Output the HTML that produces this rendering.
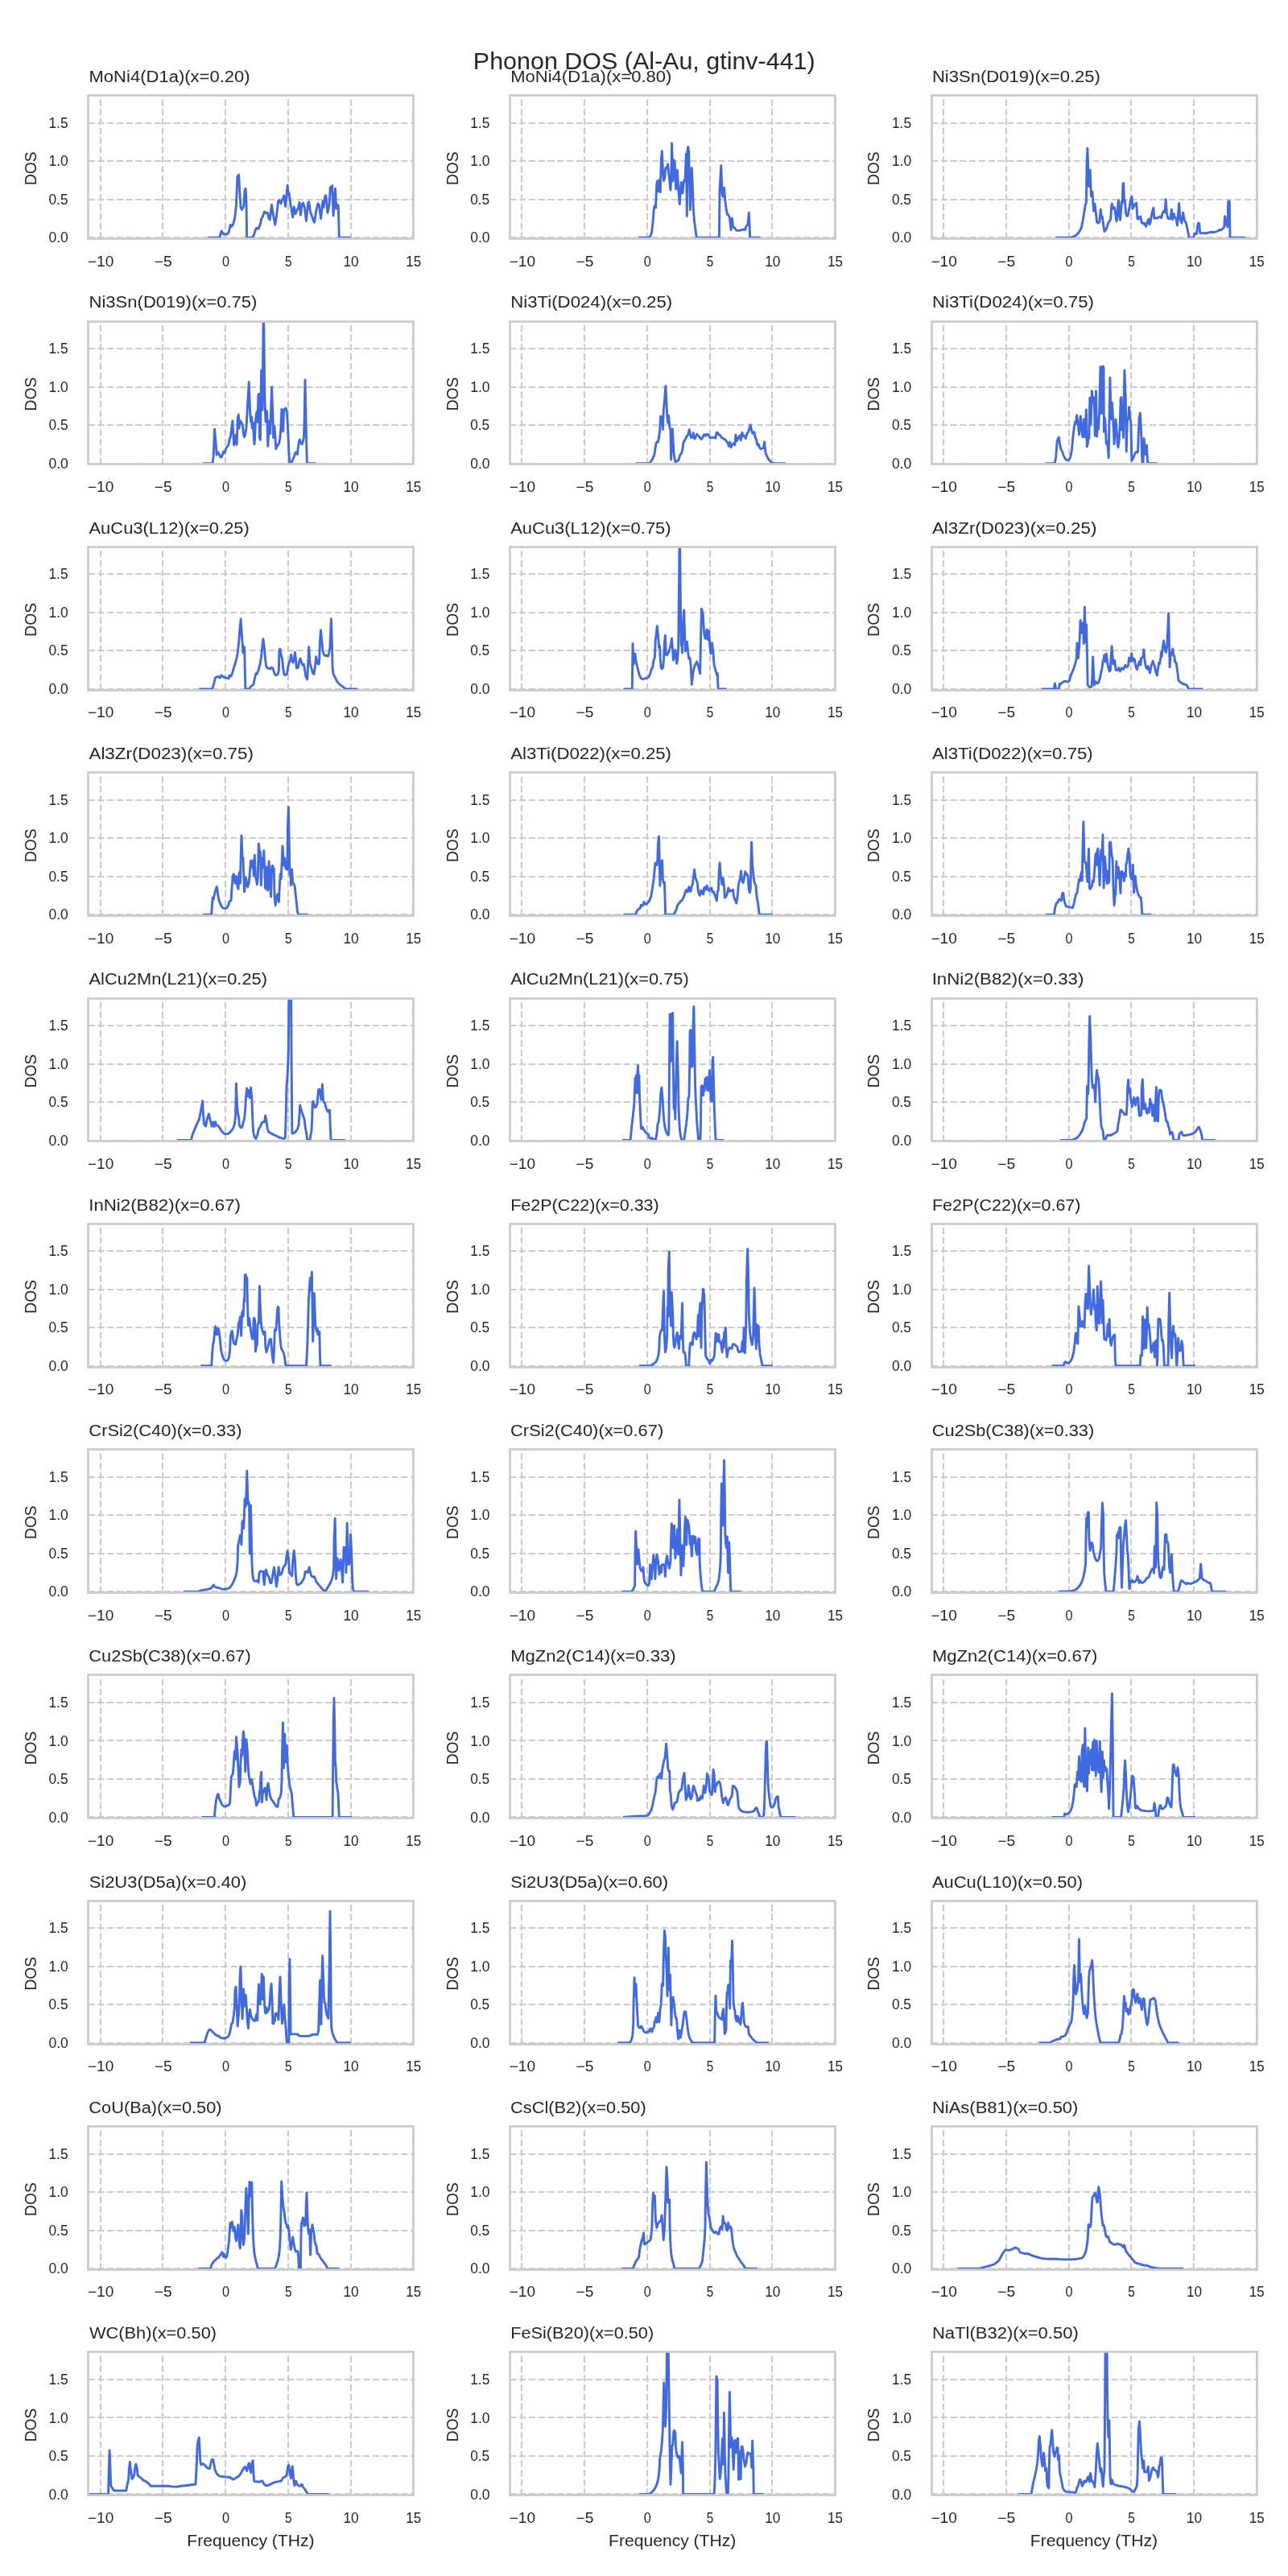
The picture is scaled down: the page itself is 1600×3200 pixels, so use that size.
<!DOCTYPE html>
<html><head><meta charset="utf-8"><title>Phonon DOS (Al-Au, gtinv-441)</title>
<style>html,body{margin:0;padding:0;background:#fff}svg{display:block;will-change:transform}text{font-family:"Liberation Sans",sans-serif}</style></head>
<body>
<svg width="1600" height="3200" viewBox="0 0 1600 3200" font-family="'Liberation Sans', sans-serif" fill="#262626">
<rect width="1600" height="3200" fill="#ffffff"/>
<defs>
<clipPath id="c0_0"><rect x="109.55" y="118.74" width="404" height="177.86"/></clipPath>
<clipPath id="c0_1"><rect x="633.29" y="118.74" width="404" height="177.86"/></clipPath>
<clipPath id="c0_2"><rect x="1157.03" y="118.74" width="404" height="177.86"/></clipPath>
<clipPath id="c1_0"><rect x="109.55" y="399.06" width="404" height="177.86"/></clipPath>
<clipPath id="c1_1"><rect x="633.29" y="399.06" width="404" height="177.86"/></clipPath>
<clipPath id="c1_2"><rect x="1157.03" y="399.06" width="404" height="177.86"/></clipPath>
<clipPath id="c2_0"><rect x="109.55" y="679.38" width="404" height="177.86"/></clipPath>
<clipPath id="c2_1"><rect x="633.29" y="679.38" width="404" height="177.86"/></clipPath>
<clipPath id="c2_2"><rect x="1157.03" y="679.38" width="404" height="177.86"/></clipPath>
<clipPath id="c3_0"><rect x="109.55" y="959.7" width="404" height="177.86"/></clipPath>
<clipPath id="c3_1"><rect x="633.29" y="959.7" width="404" height="177.86"/></clipPath>
<clipPath id="c3_2"><rect x="1157.03" y="959.7" width="404" height="177.86"/></clipPath>
<clipPath id="c4_0"><rect x="109.55" y="1240.02" width="404" height="177.86"/></clipPath>
<clipPath id="c4_1"><rect x="633.29" y="1240.02" width="404" height="177.86"/></clipPath>
<clipPath id="c4_2"><rect x="1157.03" y="1240.02" width="404" height="177.86"/></clipPath>
<clipPath id="c5_0"><rect x="109.55" y="1520.34" width="404" height="177.86"/></clipPath>
<clipPath id="c5_1"><rect x="633.29" y="1520.34" width="404" height="177.86"/></clipPath>
<clipPath id="c5_2"><rect x="1157.03" y="1520.34" width="404" height="177.86"/></clipPath>
<clipPath id="c6_0"><rect x="109.55" y="1800.66" width="404" height="177.86"/></clipPath>
<clipPath id="c6_1"><rect x="633.29" y="1800.66" width="404" height="177.86"/></clipPath>
<clipPath id="c6_2"><rect x="1157.03" y="1800.66" width="404" height="177.86"/></clipPath>
<clipPath id="c7_0"><rect x="109.55" y="2080.98" width="404" height="177.86"/></clipPath>
<clipPath id="c7_1"><rect x="633.29" y="2080.98" width="404" height="177.86"/></clipPath>
<clipPath id="c7_2"><rect x="1157.03" y="2080.98" width="404" height="177.86"/></clipPath>
<clipPath id="c8_0"><rect x="109.55" y="2361.3" width="404" height="177.86"/></clipPath>
<clipPath id="c8_1"><rect x="633.29" y="2361.3" width="404" height="177.86"/></clipPath>
<clipPath id="c8_2"><rect x="1157.03" y="2361.3" width="404" height="177.86"/></clipPath>
<clipPath id="c9_0"><rect x="109.55" y="2641.62" width="404" height="177.86"/></clipPath>
<clipPath id="c9_1"><rect x="633.29" y="2641.62" width="404" height="177.86"/></clipPath>
<clipPath id="c9_2"><rect x="1157.03" y="2641.62" width="404" height="177.86"/></clipPath>
<clipPath id="c10_0"><rect x="109.55" y="2921.94" width="404" height="177.86"/></clipPath>
<clipPath id="c10_1"><rect x="633.29" y="2921.94" width="404" height="177.86"/></clipPath>
<clipPath id="c10_2"><rect x="1157.03" y="2921.94" width="404" height="177.86"/></clipPath>
</defs>
<text x="587.88" y="86" font-size="29.45" textLength="424.77" lengthAdjust="spacingAndGlyphs">Phonon DOS (Al-Au, gtinv-441)</text>
<g>
<path d="M125 296.6V118.74M202 296.6V118.74M280 296.6V118.74M358 296.6V118.74M436 296.6V118.74M513 296.6V118.74M109.55 295H513.55M109.55 248H513.55M109.55 200H513.55M109.55 153H513.55" stroke="#cccccc" stroke-width="2.22" stroke-dasharray="8.22 3.56" fill="none"/>
<path d="M258.4 295.2 272.7 295.2 275.1 287 277.7 291 282.7 290.7 284.1 288.6 286.3 279.3 287.7 281.4 289.9 277.9 291.7 270.7 293.4 255.7 294.9 219.3 296.6 217.1 298 242.1 299.1 257.9 300.6 260.4 302.7 256.4 304.1 236.4 305.1 234.3 306 249.3 306.6 295.2 313.4 295.2 315.6 291.4 317.4 285 318.9 283.3 320.9 284.3 323.4 278.6 324.6 272.1 326.3 269.3 328.4 262.9 330.3 264.7 332.3 264.3 334.1 271.4 335.3 272.9 337.4 254.3 339.4 266.4 341.7 279.3 343.4 269.3 345.6 250 346.6 248.6 348.9 252.9 350.6 247.9 352 246.4 352.7 242.9 354.6 256.6 357.1 230.3 358.4 242.1 359.1 240 360.6 252.1 362 259.3 363.7 270 365.2 257 367 265.7 369.1 260.7 370.6 257.9 372 251.4 373.4 267.1 375.1 254.3 376.6 252.1 378.4 257.9 380.4 274.4 382.7 252.1 383.7 250.7 385.6 263.6 387.7 269.3 389.1 273.6 390.6 276.4 392.7 262.1 394.9 252.9 396.3 254.3 398.6 271.6 400.9 250 402 257.9 403.7 244.3 404.9 242.9 406.9 264.4 409.1 254.3 410.3 232.9 412.7 230.7 414.1 267.9 416.5 234.1 417.7 259.3 419.1 254.3 420.3 255.7 421.3 295.2 436 295.2" stroke="#4169e1" stroke-width="2.9" stroke-linejoin="round" stroke-linecap="butt" fill="none" clip-path="url(#c0_0)"/>
<rect x="109.5" y="118.5" width="404" height="178" fill="none" stroke="#cccccc" stroke-width="2.78"/>
<text x="110.47" y="102.07" font-size="20.61" textLength="200.21" lengthAdjust="spacingAndGlyphs">MoNi4(D1a)(x=0.20)</text>
<text x="108.98" y="330.6" font-size="17.8" textLength="32.3" lengthAdjust="spacingAndGlyphs">−10</text>
<text x="191.81" y="330.6" font-size="17.8" textLength="21.9" lengthAdjust="spacingAndGlyphs">−5</text>
<text x="275.92" y="330.6" font-size="17.8" textLength="9.05" lengthAdjust="spacingAndGlyphs">0</text>
<text x="353.89" y="330.6" font-size="17.8" textLength="8.53" lengthAdjust="spacingAndGlyphs">5</text>
<text x="426.44" y="330.6" font-size="17.8" textLength="19.2" lengthAdjust="spacingAndGlyphs">10</text>
<text x="504.23" y="330.6" font-size="17.8" textLength="18.88" lengthAdjust="spacingAndGlyphs">15</text>
<text x="60.47" y="301.35" font-size="17.8" textLength="24.34" lengthAdjust="spacingAndGlyphs">0.0</text>
<text x="60.46" y="253.85" font-size="17.8" textLength="24.04" lengthAdjust="spacingAndGlyphs">0.5</text>
<text x="60.52" y="206.35" font-size="17.8" textLength="24.28" lengthAdjust="spacingAndGlyphs">1.0</text>
<text x="60.52" y="158.85" font-size="17.8" textLength="23.98" lengthAdjust="spacingAndGlyphs">1.5</text>
<text x="24.17" y="209.27" font-size="20.61" textLength="41.68" lengthAdjust="spacingAndGlyphs" transform="rotate(-90 44.95 209.27)">DOS</text>
</g>
<g>
<path d="M648 296.6V118.74M726 296.6V118.74M804 296.6V118.74M882 296.6V118.74M959 296.6V118.74M1037 296.6V118.74M633.29 295H1037.29M633.29 248H1037.29M633.29 200H1037.29M633.29 153H1037.29" stroke="#cccccc" stroke-width="2.22" stroke-dasharray="8.22 3.56" fill="none"/>
<path d="M793.1 295.2 806 295.2 808.1 292.9 809.6 288.6 811 276.4 812.4 258.6 813.4 255.7 814.6 257.9 815.7 229.3 816.4 225 817.4 237.9 818.9 223.4 820.3 238.6 821.4 197.9 822.4 187.6 823.4 212.1 824.6 224.7 825.7 220.7 826.7 209.3 827.7 207.9 828.6 209.3 829.6 203.9 830.6 215 831.7 223.6 832.9 236.1 833.6 225 834.6 178 836 225 837.1 198.6 838.1 200.7 838.9 215 839.7 235 840.6 215 841.4 211.4 842.4 229.3 843.4 243.6 844.3 253.6 845.3 236.4 846.3 226.4 847.1 227.9 847.9 240 848.9 229.3 850 223.6 851 225 852.4 191.3 853.3 268.6 854 186.4 854.9 182.4 855.7 189.3 856.6 229.3 857.4 260.7 858.3 236.4 859.3 208.6 860.3 229.3 861.3 257.9 862.4 273.6 863.9 285 865.3 295.2 893.4 295.2 894 237.9 895.7 205.6 897.1 240.7 898.1 244.3 899.6 233.1 901 250.7 902.4 260.7 903.4 266.4 904.6 266.4 906.3 270 907.4 279.3 908.1 285.7 909.5 271.3 910.6 282.1 912.4 282.9 914.9 286.4 918.9 286.4 921.7 285.3 925.7 285.3 927.1 280.7 928.9 279 930.4 264.1 931.7 295.2 944.6 295.2" stroke="#4169e1" stroke-width="2.9" stroke-linejoin="round" stroke-linecap="butt" fill="none" clip-path="url(#c0_1)"/>
<rect x="633.5" y="118.5" width="404" height="178" fill="none" stroke="#cccccc" stroke-width="2.78"/>
<text x="634.21" y="102.07" font-size="20.61" textLength="200.21" lengthAdjust="spacingAndGlyphs">MoNi4(D1a)(x=0.80)</text>
<text x="632.72" y="330.6" font-size="17.8" textLength="32.3" lengthAdjust="spacingAndGlyphs">−10</text>
<text x="715.55" y="330.6" font-size="17.8" textLength="21.9" lengthAdjust="spacingAndGlyphs">−5</text>
<text x="799.66" y="330.6" font-size="17.8" textLength="9.05" lengthAdjust="spacingAndGlyphs">0</text>
<text x="877.63" y="330.6" font-size="17.8" textLength="8.53" lengthAdjust="spacingAndGlyphs">5</text>
<text x="950.18" y="330.6" font-size="17.8" textLength="19.2" lengthAdjust="spacingAndGlyphs">10</text>
<text x="1027.97" y="330.6" font-size="17.8" textLength="18.88" lengthAdjust="spacingAndGlyphs">15</text>
<text x="584.21" y="301.35" font-size="17.8" textLength="24.34" lengthAdjust="spacingAndGlyphs">0.0</text>
<text x="584.2" y="253.85" font-size="17.8" textLength="24.04" lengthAdjust="spacingAndGlyphs">0.5</text>
<text x="584.26" y="206.35" font-size="17.8" textLength="24.28" lengthAdjust="spacingAndGlyphs">1.0</text>
<text x="584.26" y="158.85" font-size="17.8" textLength="23.98" lengthAdjust="spacingAndGlyphs">1.5</text>
<text x="547.91" y="209.27" font-size="20.61" textLength="41.68" lengthAdjust="spacingAndGlyphs" transform="rotate(-90 568.69 209.27)">DOS</text>
</g>
<g>
<path d="M1172 296.6V118.74M1250 296.6V118.74M1328 296.6V118.74M1405 296.6V118.74M1483 296.6V118.74M1561 296.6V118.74M1157.03 295H1561.03M1157.03 248H1561.03M1157.03 200H1561.03M1157.03 153H1561.03" stroke="#cccccc" stroke-width="2.22" stroke-dasharray="8.22 3.56" fill="none"/>
<path d="M1311.4 295.2 1330.7 295.2 1335 293.3 1337.9 291.4 1340.7 287.9 1343.3 282.9 1345 275 1346.9 263.6 1348.3 254.3 1349.4 252.1 1350 206.4 1350.9 184.1 1352.6 231.6 1354.2 211.3 1355.4 243.6 1356.1 242.1 1356.9 238.1 1357.7 249.3 1358.6 262.1 1360 253.1 1361.4 265 1362.6 275.7 1364 277.1 1365.7 276.1 1367.2 260.3 1368.6 270.7 1369.4 269.3 1370.3 276.4 1371.9 287.6 1373.6 285.7 1375.4 281.4 1376.9 276.4 1378.6 274.3 1379.7 272.1 1380.7 256.4 1381.4 252.9 1382.6 259.3 1383.6 257.6 1384.7 257.9 1385.7 265.7 1386.9 274.7 1387.9 272.1 1388.9 252.1 1389.6 248.6 1390.6 265 1391.6 273.3 1392.6 260.7 1393.6 250 1394.3 252.1 1394.9 229.3 1395.7 227.6 1396.6 249.3 1397.4 249 1398.6 265 1400 268.6 1401.1 267.9 1402.9 257.9 1405 246.4 1406 244.3 1407.1 259.3 1408.6 255.7 1410.7 252.9 1411.7 252.1 1412.9 271.4 1414.3 272.1 1415.7 269.6 1416.9 269 1418.3 276.4 1420 277.9 1421.4 277.1 1422.6 279.3 1423.6 281.4 1425 276.4 1426.9 272.1 1427.9 278.6 1428.9 277.1 1430.3 268.6 1431.7 262.1 1432.9 258.3 1433.9 271.4 1435.7 270.7 1437.9 271 1440 269.3 1441.4 269 1442.6 270.7 1444.3 264.3 1446 262.1 1447.1 263.6 1448.2 247.7 1449.4 265 1451.1 271.4 1452.9 271.9 1454 271.4 1455.4 260.3 1456.7 272.9 1458.3 265.7 1459.3 270 1460.7 270.7 1462.5 280.1 1464.6 252.4 1466 272.1 1467.9 277.1 1469.6 264.1 1471.4 273.6 1473.1 276.4 1474.3 280.7 1475.7 287.9 1477.1 294.3 1477.9 295.2 1476.3 295.2 1482.7 295.2 1483.9 290 1486.5 290.5 1487.7 280.5 1488.7 277.1 1489.7 277.6 1490.7 289.5 1497.6 289.7 1501.6 289 1503.6 288.3 1508.6 288.5 1513 287 1515 285.5 1517 285.7 1519 284 1520.7 282 1521.6 268.7 1523.5 278.6 1525 282 1525.7 250.7 1526.5 249.9 1527.3 250.2 1528 295.2 1547.3 295.2" stroke="#4169e1" stroke-width="2.9" stroke-linejoin="round" stroke-linecap="butt" fill="none" clip-path="url(#c0_2)"/>
<rect x="1157.5" y="118.5" width="404" height="178" fill="none" stroke="#cccccc" stroke-width="2.78"/>
<text x="1157.95" y="102.07" font-size="20.61" textLength="208.99" lengthAdjust="spacingAndGlyphs">Ni3Sn(D019)(x=0.25)</text>
<text x="1156.46" y="330.6" font-size="17.8" textLength="32.3" lengthAdjust="spacingAndGlyphs">−10</text>
<text x="1239.29" y="330.6" font-size="17.8" textLength="21.9" lengthAdjust="spacingAndGlyphs">−5</text>
<text x="1323.4" y="330.6" font-size="17.8" textLength="9.05" lengthAdjust="spacingAndGlyphs">0</text>
<text x="1401.37" y="330.6" font-size="17.8" textLength="8.53" lengthAdjust="spacingAndGlyphs">5</text>
<text x="1473.92" y="330.6" font-size="17.8" textLength="19.2" lengthAdjust="spacingAndGlyphs">10</text>
<text x="1551.71" y="330.6" font-size="17.8" textLength="18.88" lengthAdjust="spacingAndGlyphs">15</text>
<text x="1107.95" y="301.35" font-size="17.8" textLength="24.34" lengthAdjust="spacingAndGlyphs">0.0</text>
<text x="1107.94" y="253.85" font-size="17.8" textLength="24.04" lengthAdjust="spacingAndGlyphs">0.5</text>
<text x="1108" y="206.35" font-size="17.8" textLength="24.28" lengthAdjust="spacingAndGlyphs">1.0</text>
<text x="1108" y="158.85" font-size="17.8" textLength="23.98" lengthAdjust="spacingAndGlyphs">1.5</text>
<text x="1071.65" y="209.27" font-size="20.61" textLength="41.68" lengthAdjust="spacingAndGlyphs" transform="rotate(-90 1092.43 209.27)">DOS</text>
</g>
<g>
<path d="M125 576.92V399.06M202 576.92V399.06M280 576.92V399.06M358 576.92V399.06M436 576.92V399.06M513 576.92V399.06M109.55 576H513.55M109.55 528H513.55M109.55 481H513.55M109.55 433H513.55" stroke="#cccccc" stroke-width="2.22" stroke-dasharray="8.22 3.56" fill="none"/>
<path d="M252 575.6 264.1 575.6 265.1 566.4 266.6 533.1 268.1 550.7 269.1 565 270.3 561.4 272 563.6 273.7 567.6 275.1 568.1 276.6 564.3 277.7 560.7 279.1 562.4 280.6 557.9 282 555 283.7 553.3 285.1 545.7 286.3 542.9 287.4 534.3 288.9 522.7 290.6 553 292.5 540.6 294.1 552.3 295.3 519.3 296.3 515 297.1 532.1 298 522.1 299.1 523.6 301.3 527.9 302.3 537.9 303.4 542.9 304.9 538.6 306 530.7 307 513.6 308 495 309.2 474.6 310.6 510.7 311.7 524.3 312.7 518.1 313.4 532.1 314.3 525.3 315 537.9 315.9 551.9 316.6 545 317.4 523.6 318.1 516.4 319.1 511.4 320 524.3 320.9 490.7 321.7 489.3 322.4 543.6 323.4 546.4 324.6 459.9 326.1 509.3 327.1 397.9 327.7 397.9 328.9 495 330 523.7 331.6 510.6 332.8 554.4 334.4 522.7 335.7 538.6 336.6 509.3 337.6 480.6 338.9 516.4 339.7 543.6 341 529.1 342.3 549.3 342.9 557.6 344.1 554.3 345.1 553.3 346.6 550.7 347.7 545 348.7 535 349.9 508.4 351 519.3 351.7 535.7 352.6 509.3 353.4 507.9 354.3 509.3 355.1 507.1 356 509.3 357 520.7 358 540.7 359.1 566.4 359.9 575.6 361.7 575.6 364.1 570.4 366.3 564.3 367.4 561.9 368.4 562.4 369.4 564.3 370.3 556.4 371.3 549.3 372.4 546.1 373.7 550.7 375.1 551.9 376.3 548.6 377.4 543.6 378.1 523.6 379 472 380.1 523.6 380.9 559.3 381.4 575.6 392.7 575.6" stroke="#4169e1" stroke-width="2.9" stroke-linejoin="round" stroke-linecap="butt" fill="none" clip-path="url(#c1_0)"/>
<rect x="109.5" y="399.5" width="404" height="177" fill="none" stroke="#cccccc" stroke-width="2.78"/>
<text x="110.47" y="382.39" font-size="20.61" textLength="208.99" lengthAdjust="spacingAndGlyphs">Ni3Sn(D019)(x=0.75)</text>
<text x="108.98" y="610.92" font-size="17.8" textLength="32.3" lengthAdjust="spacingAndGlyphs">−10</text>
<text x="191.81" y="610.92" font-size="17.8" textLength="21.9" lengthAdjust="spacingAndGlyphs">−5</text>
<text x="275.92" y="610.92" font-size="17.8" textLength="9.05" lengthAdjust="spacingAndGlyphs">0</text>
<text x="353.89" y="610.92" font-size="17.8" textLength="8.53" lengthAdjust="spacingAndGlyphs">5</text>
<text x="426.44" y="610.92" font-size="17.8" textLength="19.2" lengthAdjust="spacingAndGlyphs">10</text>
<text x="504.23" y="610.92" font-size="17.8" textLength="18.88" lengthAdjust="spacingAndGlyphs">15</text>
<text x="60.47" y="581.67" font-size="17.8" textLength="24.34" lengthAdjust="spacingAndGlyphs">0.0</text>
<text x="60.46" y="534.17" font-size="17.8" textLength="24.04" lengthAdjust="spacingAndGlyphs">0.5</text>
<text x="60.52" y="486.67" font-size="17.8" textLength="24.28" lengthAdjust="spacingAndGlyphs">1.0</text>
<text x="60.52" y="439.17" font-size="17.8" textLength="23.98" lengthAdjust="spacingAndGlyphs">1.5</text>
<text x="24.17" y="489.59" font-size="20.61" textLength="41.68" lengthAdjust="spacingAndGlyphs" transform="rotate(-90 44.95 489.59)">DOS</text>
</g>
<g>
<path d="M648 576.92V399.06M726 576.92V399.06M804 576.92V399.06M882 576.92V399.06M959 576.92V399.06M1037 576.92V399.06M633.29 576H1037.29M633.29 528H1037.29M633.29 481H1037.29M633.29 433H1037.29" stroke="#cccccc" stroke-width="2.22" stroke-dasharray="8.22 3.56" fill="none"/>
<path d="M789.6 575.6 806.7 575.6 808.9 572.9 811 569.3 812.9 564.3 813.9 557.9 814.9 551.4 816 549 817.4 549.3 818.6 543.6 819.6 535 820.7 517 822 527.1 822.7 517.6 823.4 533.6 824.3 509.3 825.3 499.3 826.9 479.4 828.1 503.6 828.9 519.3 829.7 525.3 830.7 516.3 832 532.1 832.9 532.9 833.6 571 834.3 552.1 835.4 532.7 836.4 552.1 837.4 566.4 838.9 573.6 840.6 573.3 843.1 571.4 844.6 565.7 846.3 563.6 847.7 559.3 849.1 549.3 851 546.4 853.1 542.1 854.9 540 856.4 533.7 857.7 540.7 858.6 543.6 860.3 542.9 861.3 537.6 862.1 543.6 863.1 545.3 864.6 541.4 865.7 539.3 867.4 541.4 869.1 542.9 871 545.7 872.9 543.6 874.3 540 875.7 539.6 876.7 541.4 877.7 539.6 879.1 539.3 880.6 541.4 882 543.6 883.9 543.9 885.7 543.3 887.4 543.6 888.9 544.3 889.9 537.9 891.4 537.1 892.9 540 894.6 540.7 896.3 543.6 898.6 545 901 546.1 903.1 549 904.3 550.7 905.3 554.3 906.7 549.1 908.1 555.7 909.6 552.1 911.4 550.7 912.9 552.9 913.9 540.3 915.3 547.9 916.7 545 918.1 542.1 919.6 540.7 920.3 547.1 921.9 537.4 923.4 542.1 924.6 541.4 926.3 544.7 927.7 539.3 929.1 537.1 930.6 533.6 932.2 527.7 933.9 535.7 934.9 538.6 936 537.1 937 536.7 938.1 542.9 939.6 546.4 941 552.9 942.4 552.1 943.4 555.7 944.9 557.6 946.7 557.1 948.6 556.4 949.6 548.9 951 562.9 952.4 565.7 954.3 570 956 571.9 958.1 574.3 960 575.3 963.1 575.6 976 575.6" stroke="#4169e1" stroke-width="2.9" stroke-linejoin="round" stroke-linecap="butt" fill="none" clip-path="url(#c1_1)"/>
<rect x="633.5" y="399.5" width="404" height="177" fill="none" stroke="#cccccc" stroke-width="2.78"/>
<text x="634.2" y="382.39" font-size="20.61" textLength="201.06" lengthAdjust="spacingAndGlyphs">Ni3Ti(D024)(x=0.25)</text>
<text x="632.72" y="610.92" font-size="17.8" textLength="32.3" lengthAdjust="spacingAndGlyphs">−10</text>
<text x="715.55" y="610.92" font-size="17.8" textLength="21.9" lengthAdjust="spacingAndGlyphs">−5</text>
<text x="799.66" y="610.92" font-size="17.8" textLength="9.05" lengthAdjust="spacingAndGlyphs">0</text>
<text x="877.63" y="610.92" font-size="17.8" textLength="8.53" lengthAdjust="spacingAndGlyphs">5</text>
<text x="950.18" y="610.92" font-size="17.8" textLength="19.2" lengthAdjust="spacingAndGlyphs">10</text>
<text x="1027.97" y="610.92" font-size="17.8" textLength="18.88" lengthAdjust="spacingAndGlyphs">15</text>
<text x="584.21" y="581.67" font-size="17.8" textLength="24.34" lengthAdjust="spacingAndGlyphs">0.0</text>
<text x="584.2" y="534.17" font-size="17.8" textLength="24.04" lengthAdjust="spacingAndGlyphs">0.5</text>
<text x="584.26" y="486.67" font-size="17.8" textLength="24.28" lengthAdjust="spacingAndGlyphs">1.0</text>
<text x="584.26" y="439.17" font-size="17.8" textLength="23.98" lengthAdjust="spacingAndGlyphs">1.5</text>
<text x="547.91" y="489.59" font-size="20.61" textLength="41.68" lengthAdjust="spacingAndGlyphs" transform="rotate(-90 568.69 489.59)">DOS</text>
</g>
<g>
<path d="M1172 576.92V399.06M1250 576.92V399.06M1328 576.92V399.06M1405 576.92V399.06M1483 576.92V399.06M1561 576.92V399.06M1157.03 576H1561.03M1157.03 528H1561.03M1157.03 481H1561.03M1157.03 433H1561.03" stroke="#cccccc" stroke-width="2.22" stroke-dasharray="8.22 3.56" fill="none"/>
<path d="M1298.3 575.6 1310.3 575.6 1311.7 567.9 1313.1 548.6 1314.3 545 1315.4 543.3 1316.4 551.4 1317.9 557.9 1319.7 561.4 1321.4 566.4 1323.6 570.4 1325.7 571.9 1327.9 571 1329.7 567.9 1331.4 559.3 1333.1 540.7 1334.6 529.3 1335.7 523.6 1336.6 526.4 1337.6 516 1338.9 523.6 1339.7 532.1 1340.7 540 1342.3 517 1343.6 530.7 1344.9 543 1346.4 520.6 1347.9 543 1349.4 508.9 1350.3 554.7 1351.1 552.1 1352 545 1352.9 544.3 1353.8 494.1 1355.1 527.9 1356.4 485.6 1357.7 500.7 1358.6 493.6 1359.4 503.6 1360.3 541.4 1361.5 485.6 1362.6 542.1 1363.4 532.1 1364.6 532.9 1365.7 509.3 1367 455.6 1368.3 513.6 1369 455.7 1370.3 455 1371 456.4 1371.4 536.4 1372.5 518.9 1373.6 536.4 1374.3 551.4 1375.7 549.3 1377.2 568.7 1378.9 469.1 1380.3 520.7 1381.6 500.3 1382.9 523.6 1384.1 551.6 1386.1 520.9 1387.4 537.9 1388.3 552.1 1389.1 555.7 1390.3 545 1391.4 523.6 1392.1 495 1393 493.6 1393.7 534.3 1394.6 509.3 1395.4 543.6 1396.9 459.9 1398.3 495 1399.2 560.9 1400.3 523.6 1401.1 520.7 1401.7 519.3 1402.6 505.6 1403.7 517.9 1404.9 526.4 1405.9 572.3 1408.3 567.9 1410 562.9 1411.7 561 1412.9 562.1 1413.6 560.7 1414.3 537.9 1415.1 519.3 1416.4 513.1 1417.7 537.9 1418.6 566.4 1419.1 575.6 1420 575.6 1421.1 544.6 1422.7 564.4 1424.4 553.1 1425.7 575.6 1437.9 575.6" stroke="#4169e1" stroke-width="2.9" stroke-linejoin="round" stroke-linecap="butt" fill="none" clip-path="url(#c1_2)"/>
<rect x="1157.5" y="399.5" width="404" height="177" fill="none" stroke="#cccccc" stroke-width="2.78"/>
<text x="1157.94" y="382.39" font-size="20.61" textLength="201.06" lengthAdjust="spacingAndGlyphs">Ni3Ti(D024)(x=0.75)</text>
<text x="1156.46" y="610.92" font-size="17.8" textLength="32.3" lengthAdjust="spacingAndGlyphs">−10</text>
<text x="1239.29" y="610.92" font-size="17.8" textLength="21.9" lengthAdjust="spacingAndGlyphs">−5</text>
<text x="1323.4" y="610.92" font-size="17.8" textLength="9.05" lengthAdjust="spacingAndGlyphs">0</text>
<text x="1401.37" y="610.92" font-size="17.8" textLength="8.53" lengthAdjust="spacingAndGlyphs">5</text>
<text x="1473.92" y="610.92" font-size="17.8" textLength="19.2" lengthAdjust="spacingAndGlyphs">10</text>
<text x="1551.71" y="610.92" font-size="17.8" textLength="18.88" lengthAdjust="spacingAndGlyphs">15</text>
<text x="1107.95" y="581.67" font-size="17.8" textLength="24.34" lengthAdjust="spacingAndGlyphs">0.0</text>
<text x="1107.94" y="534.17" font-size="17.8" textLength="24.04" lengthAdjust="spacingAndGlyphs">0.5</text>
<text x="1108" y="486.67" font-size="17.8" textLength="24.28" lengthAdjust="spacingAndGlyphs">1.0</text>
<text x="1108" y="439.17" font-size="17.8" textLength="23.98" lengthAdjust="spacingAndGlyphs">1.5</text>
<text x="1071.65" y="489.59" font-size="20.61" textLength="41.68" lengthAdjust="spacingAndGlyphs" transform="rotate(-90 1092.43 489.59)">DOS</text>
</g>
<g>
<path d="M125 857.24V679.38M202 857.24V679.38M280 857.24V679.38M358 857.24V679.38M436 857.24V679.38M513 857.24V679.38M109.55 856H513.55M109.55 808H513.55M109.55 761H513.55M109.55 713H513.55" stroke="#cccccc" stroke-width="2.22" stroke-dasharray="8.22 3.56" fill="none"/>
<path d="M247.4 855.9 263.7 855.9 265.6 849.6 267.4 842 269.1 841 270.9 840.3 273.1 842 275.1 838.9 277 840.6 279.1 841.7 282 842.4 284.1 842.9 285.1 838.9 286.3 840.3 287.7 838.9 289.4 833.1 291.7 825.3 293.7 818.9 295.1 811.7 296.6 798.9 297.7 784.6 299.1 769 300.3 787.4 301.3 800.3 302 811 302.9 803.1 303.7 804.6 304.3 833.1 304.9 855.9 309.1 855.9 312 852.4 314.9 850.3 316.3 843.1 318 836.7 319.1 837.4 321.3 831.7 323.1 824.6 324.6 815.3 325.6 804.6 326.9 793.7 328.4 804.6 329.4 817.4 330.6 827.4 332 829.6 334.1 830.3 336 831 337.4 829.1 338.9 830.3 340.3 834.6 341.7 838.1 343.4 838.9 345.1 837.4 346.3 833.1 347 807.4 348 806 349.1 813.1 350.6 818.9 351.7 830.3 353.1 838.1 354.9 838.6 356.6 837.4 358 827.4 359.4 822.4 360.6 820.3 361.6 813.3 363.1 821.7 364.1 823.1 365.1 820.3 366.4 810.1 367.4 818.9 368.4 830 370.6 828.9 372 820.3 373.1 818.1 374.6 823.1 376 826 377.4 825.3 378.4 831 379.9 840.3 381.7 843.9 382.3 833.1 383.7 803.7 385.1 824.6 387 830.3 388.4 836 389.9 837.4 391.3 828.9 392.7 815.6 394.1 823.1 395.6 825.3 396.6 823.1 397.4 798.9 398.5 782.7 399.9 797.4 400.9 807.4 402.3 812.9 404.1 814.6 406 814.3 407.4 815.3 408.9 810.3 409.9 804.6 411.4 768.7 412.6 804.6 413.1 830.3 414.1 837.4 416.3 841.7 418.4 846 421.3 849.6 424.9 852.4 427.7 854.6 429.9 855.9 444 855.9" stroke="#4169e1" stroke-width="2.9" stroke-linejoin="round" stroke-linecap="butt" fill="none" clip-path="url(#c2_0)"/>
<rect x="109.5" y="679.5" width="404" height="178" fill="none" stroke="#cccccc" stroke-width="2.78"/>
<text x="110.48" y="662.71" font-size="20.61" textLength="199.41" lengthAdjust="spacingAndGlyphs">AuCu3(L12)(x=0.25)</text>
<text x="108.98" y="891.24" font-size="17.8" textLength="32.3" lengthAdjust="spacingAndGlyphs">−10</text>
<text x="191.81" y="891.24" font-size="17.8" textLength="21.9" lengthAdjust="spacingAndGlyphs">−5</text>
<text x="275.92" y="891.24" font-size="17.8" textLength="9.05" lengthAdjust="spacingAndGlyphs">0</text>
<text x="353.89" y="891.24" font-size="17.8" textLength="8.53" lengthAdjust="spacingAndGlyphs">5</text>
<text x="426.44" y="891.24" font-size="17.8" textLength="19.2" lengthAdjust="spacingAndGlyphs">10</text>
<text x="504.23" y="891.24" font-size="17.8" textLength="18.88" lengthAdjust="spacingAndGlyphs">15</text>
<text x="60.47" y="861.99" font-size="17.8" textLength="24.34" lengthAdjust="spacingAndGlyphs">0.0</text>
<text x="60.46" y="814.49" font-size="17.8" textLength="24.04" lengthAdjust="spacingAndGlyphs">0.5</text>
<text x="60.52" y="766.99" font-size="17.8" textLength="24.28" lengthAdjust="spacingAndGlyphs">1.0</text>
<text x="60.52" y="719.49" font-size="17.8" textLength="23.98" lengthAdjust="spacingAndGlyphs">1.5</text>
<text x="24.17" y="769.91" font-size="20.61" textLength="41.68" lengthAdjust="spacingAndGlyphs" transform="rotate(-90 44.95 769.91)">DOS</text>
</g>
<g>
<path d="M648 857.24V679.38M726 857.24V679.38M804 857.24V679.38M882 857.24V679.38M959 857.24V679.38M1037 857.24V679.38M633.29 856H1037.29M633.29 808H1037.29M633.29 761H1037.29M633.29 713H1037.29" stroke="#cccccc" stroke-width="2.22" stroke-dasharray="8.22 3.56" fill="none"/>
<path d="M774.3 855.9 785.3 855.9 786 799.4 787.1 825.3 788.9 812.3 790.7 824.6 792.4 831 793.9 837.4 795.7 841.7 797.7 843.6 800.3 843.1 803.1 842.4 806 841 807.7 836.7 809.6 830.3 810.7 829.6 811.7 821.7 812.7 818.1 813.4 816.7 814.3 794.6 816.4 777.6 818 794.6 818.6 804.6 819.6 802.4 820.3 818.9 821.1 828.9 822.4 831 823.6 828.9 824.6 818.9 825.3 800.3 826.4 789.4 827.4 813.1 828.6 813.9 830.6 810.3 832.4 804.6 833.4 800.3 834.5 793 835.6 807.4 836.4 820 837.4 813.1 838.9 807.3 840 818.9 840.7 824.3 841.7 818.9 842.7 804.6 844 678.9 844.7 678.9 845.7 776 846.3 801.7 846.9 798.9 847.4 811 848.1 790.3 848.9 767.4 849.7 758 850.7 790.3 851.4 808.9 852.4 804.6 853.5 797.3 854.6 808.9 855.7 818.1 857.1 817.4 858.1 826 859.3 850.4 860.6 838.9 861.7 831.7 863.4 826 865.6 821.9 867.4 827.4 868.9 833.1 869.7 836.7 870.3 804.6 871.5 756.1 873.1 761.7 874 776 874.9 788.9 876.2 793.3 878.1 781.9 879.1 794.6 880.5 783.7 881.7 800.3 882.9 811.9 884.6 798.7 886 811.7 887.1 826 888.6 831.7 890 836 890.9 840.3 891.4 836.7 892 854.6 892.4 855.9 902.9 855.9" stroke="#4169e1" stroke-width="2.9" stroke-linejoin="round" stroke-linecap="butt" fill="none" clip-path="url(#c2_1)"/>
<rect x="633.5" y="679.5" width="404" height="178" fill="none" stroke="#cccccc" stroke-width="2.78"/>
<text x="634.22" y="662.71" font-size="20.61" textLength="199.41" lengthAdjust="spacingAndGlyphs">AuCu3(L12)(x=0.75)</text>
<text x="632.72" y="891.24" font-size="17.8" textLength="32.3" lengthAdjust="spacingAndGlyphs">−10</text>
<text x="715.55" y="891.24" font-size="17.8" textLength="21.9" lengthAdjust="spacingAndGlyphs">−5</text>
<text x="799.66" y="891.24" font-size="17.8" textLength="9.05" lengthAdjust="spacingAndGlyphs">0</text>
<text x="877.63" y="891.24" font-size="17.8" textLength="8.53" lengthAdjust="spacingAndGlyphs">5</text>
<text x="950.18" y="891.24" font-size="17.8" textLength="19.2" lengthAdjust="spacingAndGlyphs">10</text>
<text x="1027.97" y="891.24" font-size="17.8" textLength="18.88" lengthAdjust="spacingAndGlyphs">15</text>
<text x="584.21" y="861.99" font-size="17.8" textLength="24.34" lengthAdjust="spacingAndGlyphs">0.0</text>
<text x="584.2" y="814.49" font-size="17.8" textLength="24.04" lengthAdjust="spacingAndGlyphs">0.5</text>
<text x="584.26" y="766.99" font-size="17.8" textLength="24.28" lengthAdjust="spacingAndGlyphs">1.0</text>
<text x="584.26" y="719.49" font-size="17.8" textLength="23.98" lengthAdjust="spacingAndGlyphs">1.5</text>
<text x="547.91" y="769.91" font-size="20.61" textLength="41.68" lengthAdjust="spacingAndGlyphs" transform="rotate(-90 568.69 769.91)">DOS</text>
</g>
<g>
<path d="M1172 857.24V679.38M1250 857.24V679.38M1328 857.24V679.38M1405 857.24V679.38M1483 857.24V679.38M1561 857.24V679.38M1157.03 856H1561.03M1157.03 808H1561.03M1157.03 761H1561.03M1157.03 713H1561.03" stroke="#cccccc" stroke-width="2.22" stroke-dasharray="8.22 3.56" fill="none"/>
<path d="M1293.6 855.9 1309.3 855.9 1310.4 849 1311.7 855.9 1315.4 855.9 1316.4 849.1 1317.4 850 1319.3 848.1 1321.4 846.7 1324 846.3 1326.4 847.1 1328.3 846 1330 839.6 1332.1 834.6 1334.3 828.9 1336.4 821.7 1337.4 816.7 1338 798.9 1339.4 817.6 1340.9 800.3 1342.1 770.4 1343.9 786.1 1345.4 773.7 1346.3 799.6 1347.4 754.1 1348.6 797.4 1349.6 775.9 1350.6 818.9 1351.1 850.3 1352.6 852.9 1354.3 853.9 1356 853.1 1356.9 840.3 1357.6 815.9 1359.3 851.1 1361.4 846.7 1362.9 848.9 1364.6 848.1 1366.4 842.4 1367.9 834.6 1369 830.3 1370 821.7 1371.1 818.9 1371.9 813.4 1372.9 822.1 1374.4 811.9 1375.7 823.1 1377.1 830.3 1378.3 833.9 1379.3 833.1 1380 818.9 1381.1 802.7 1382.9 825 1384.8 820.4 1386.1 832.4 1387.9 832.9 1389.7 829.6 1391.4 833.9 1393.6 830 1395.4 831.4 1397.9 826.3 1399.3 828.9 1401.4 827.4 1402.6 817.3 1403.9 821.7 1404.7 817.4 1405.8 811.6 1406.9 821.4 1408.3 818.1 1409.3 818.9 1410.3 824.6 1411.4 829.6 1412.6 831.7 1414 826 1415.5 821.6 1416.9 826 1417.7 817.4 1418.9 816.7 1420 816 1420.9 807 1421.9 818.9 1422.9 826 1424 829.6 1425 830.6 1426.1 827.4 1427.1 831.7 1428.6 835.9 1430 827.4 1432.1 821.3 1434.3 827.4 1435.7 834.6 1437.3 839 1438.6 830.3 1439.7 823.1 1440.7 824.6 1441.9 816.7 1442.4 810.3 1443.3 815.3 1444.3 804.6 1445.5 795.9 1446.9 804.6 1447.9 808.9 1448.6 810.3 1449.6 803.1 1450.4 790.3 1451.6 761.9 1452.6 804.6 1453.1 828.9 1454 816.7 1454.7 813.1 1455.7 810.3 1456.8 806.1 1457.9 813.9 1458.9 815.3 1459.7 822.4 1461.1 823.1 1462.6 833.1 1464 845.3 1465.7 847.1 1468.6 848.9 1471.4 850.3 1473.6 850.6 1475 852.4 1476.4 855.9 1494.3 855.9" stroke="#4169e1" stroke-width="2.9" stroke-linejoin="round" stroke-linecap="butt" fill="none" clip-path="url(#c2_2)"/>
<rect x="1157.5" y="679.5" width="404" height="178" fill="none" stroke="#cccccc" stroke-width="2.78"/>
<text x="1157.96" y="662.71" font-size="20.61" textLength="204.42" lengthAdjust="spacingAndGlyphs">Al3Zr(D023)(x=0.25)</text>
<text x="1156.46" y="891.24" font-size="17.8" textLength="32.3" lengthAdjust="spacingAndGlyphs">−10</text>
<text x="1239.29" y="891.24" font-size="17.8" textLength="21.9" lengthAdjust="spacingAndGlyphs">−5</text>
<text x="1323.4" y="891.24" font-size="17.8" textLength="9.05" lengthAdjust="spacingAndGlyphs">0</text>
<text x="1401.37" y="891.24" font-size="17.8" textLength="8.53" lengthAdjust="spacingAndGlyphs">5</text>
<text x="1473.92" y="891.24" font-size="17.8" textLength="19.2" lengthAdjust="spacingAndGlyphs">10</text>
<text x="1551.71" y="891.24" font-size="17.8" textLength="18.88" lengthAdjust="spacingAndGlyphs">15</text>
<text x="1107.95" y="861.99" font-size="17.8" textLength="24.34" lengthAdjust="spacingAndGlyphs">0.0</text>
<text x="1107.94" y="814.49" font-size="17.8" textLength="24.04" lengthAdjust="spacingAndGlyphs">0.5</text>
<text x="1108" y="766.99" font-size="17.8" textLength="24.28" lengthAdjust="spacingAndGlyphs">1.0</text>
<text x="1108" y="719.49" font-size="17.8" textLength="23.98" lengthAdjust="spacingAndGlyphs">1.5</text>
<text x="1071.65" y="769.91" font-size="20.61" textLength="41.68" lengthAdjust="spacingAndGlyphs" transform="rotate(-90 1092.43 769.91)">DOS</text>
</g>
<g>
<path d="M125 1137.56V959.7M202 1137.56V959.7M280 1137.56V959.7M358 1137.56V959.7M436 1137.56V959.7M513 1137.56V959.7M109.55 1136H513.55M109.55 1089H513.55M109.55 1041H513.55M109.55 994H513.55" stroke="#cccccc" stroke-width="2.22" stroke-dasharray="8.22 3.56" fill="none"/>
<path d="M252 1136.2 262.7 1136.2 263.4 1124.6 264.1 1115.3 265.1 1117.4 266.3 1111.7 267.7 1106 269.4 1101.6 270.6 1110.3 271.7 1117.4 273.4 1121.7 275.1 1126 277.4 1128.1 279.9 1128.6 282 1127.4 283.7 1124.6 285.1 1119.6 287 1118.9 287.7 1107.4 288.6 1096.7 289.1 1088.1 290.3 1085.7 291.3 1093.1 292.3 1097.4 293.7 1088.4 295.1 1101.7 296 1104.3 297.2 1083.7 298.4 1097.4 299.1 1067.4 300 1038 301.1 1066 302 1065.7 302.6 1084.6 303.6 1107.9 305.4 1089.9 307.5 1101.9 309.1 1097.4 310.3 1084.6 311.5 1069.4 312.9 1077.4 314.1 1069 315.3 1087.4 316.3 1062.3 317.4 1088.9 318.4 1093.1 319.4 1098.9 320.3 1090.3 321.3 1048 322.6 1058.9 323.4 1058.1 324.3 1099.6 325.6 1065.9 326.7 1077.4 327.8 1056.7 328.9 1084.6 329.4 1103.1 330.3 1076.7 331 1104.6 331.7 1077.1 332.7 1106 334.1 1069.9 335.4 1098.9 336.6 1114 337.7 1076 338.6 1075.3 339.4 1078.1 340.3 1078.9 341 1113.1 342.1 1124.7 343.4 1116 344.7 1110.9 346.4 1120.4 347.4 1098.9 348.3 1085.6 349.1 1091.7 349.9 1077.4 351 1050.9 352.6 1075 353.8 1065.9 354.9 1078.9 356 1079.6 357 1080.3 357.4 1027.4 358.4 1002.7 359.4 1056 360 1086.7 360.9 1079.6 361.4 1099.6 362.6 1079.9 363.7 1097.4 365.1 1098.1 366.3 1101.7 367.4 1113.1 368.6 1123.1 369.4 1132.4 370.9 1136.2 382.7 1136.2" stroke="#4169e1" stroke-width="2.9" stroke-linejoin="round" stroke-linecap="butt" fill="none" clip-path="url(#c3_0)"/>
<rect x="109.5" y="959.5" width="404" height="178" fill="none" stroke="#cccccc" stroke-width="2.78"/>
<text x="110.48" y="943.03" font-size="20.61" textLength="204.42" lengthAdjust="spacingAndGlyphs">Al3Zr(D023)(x=0.75)</text>
<text x="108.98" y="1171.56" font-size="17.8" textLength="32.3" lengthAdjust="spacingAndGlyphs">−10</text>
<text x="191.81" y="1171.56" font-size="17.8" textLength="21.9" lengthAdjust="spacingAndGlyphs">−5</text>
<text x="275.92" y="1171.56" font-size="17.8" textLength="9.05" lengthAdjust="spacingAndGlyphs">0</text>
<text x="353.89" y="1171.56" font-size="17.8" textLength="8.53" lengthAdjust="spacingAndGlyphs">5</text>
<text x="426.44" y="1171.56" font-size="17.8" textLength="19.2" lengthAdjust="spacingAndGlyphs">10</text>
<text x="504.23" y="1171.56" font-size="17.8" textLength="18.88" lengthAdjust="spacingAndGlyphs">15</text>
<text x="60.47" y="1142.31" font-size="17.8" textLength="24.34" lengthAdjust="spacingAndGlyphs">0.0</text>
<text x="60.46" y="1094.81" font-size="17.8" textLength="24.04" lengthAdjust="spacingAndGlyphs">0.5</text>
<text x="60.52" y="1047.31" font-size="17.8" textLength="24.28" lengthAdjust="spacingAndGlyphs">1.0</text>
<text x="60.52" y="999.81" font-size="17.8" textLength="23.98" lengthAdjust="spacingAndGlyphs">1.5</text>
<text x="24.17" y="1050.23" font-size="20.61" textLength="41.68" lengthAdjust="spacingAndGlyphs" transform="rotate(-90 44.95 1050.23)">DOS</text>
</g>
<g>
<path d="M648 1137.56V959.7M726 1137.56V959.7M804 1137.56V959.7M882 1137.56V959.7M959 1137.56V959.7M1037 1137.56V959.7M633.29 1136H1037.29M633.29 1089H1037.29M633.29 1041H1037.29M633.29 994H1037.29" stroke="#cccccc" stroke-width="2.22" stroke-dasharray="8.22 3.56" fill="none"/>
<path d="M774.3 1136.2 789.6 1136.2 791 1131.7 792.9 1129.6 795.3 1128.1 796.3 1124.3 797.7 1125.3 799.1 1123.9 800 1120.3 801 1123.1 802.4 1123.4 804.6 1121.7 806.7 1118.9 808.6 1113.9 810.3 1104.6 812 1093.1 813.1 1081.7 813.9 1072.4 814.9 1072 816 1074.6 816.7 1070.3 817.4 1048.9 818.6 1039 819.9 1100.4 821 1070.3 822 1069.1 822.7 1068.9 823.4 1093.1 824.6 1096.7 825.4 1096 826 1113.1 826.6 1136.2 836.7 1136.2 838.6 1133.1 840.3 1129.6 841.4 1125.3 842.4 1123.1 843.9 1122 845.3 1119.6 846.7 1118.9 848.6 1116 850.3 1111.7 851.7 1106.7 852.4 1105.7 853.4 1105.3 854.3 1108.1 855.8 1101.6 857.9 1107.6 859.1 1101.7 860.3 1098.9 861.3 1090.3 862.6 1080.1 863.9 1090.3 865.3 1093.9 866.3 1096.7 867.4 1107.4 869.3 1112.6 871 1106 872 1108.1 872.9 1110.6 873.9 1111 874.6 1103.1 875.7 1102.4 876.7 1105.3 878.1 1100.1 879.6 1104.6 881 1106.7 882.4 1103.9 883.9 1103.1 884.9 1108.1 886.3 1107.4 887.7 1111 889.1 1114.6 890.3 1118.9 891.4 1107.4 892.4 1106 893.1 1084.6 894.1 1071.6 895.3 1087.4 896 1091.7 896.9 1098.9 898.3 1091.3 899.6 1101.7 900.3 1115.3 901.7 1113.9 903.1 1111 904.8 1103 906.3 1107.4 907.7 1106 909.1 1106.7 910.6 1105.3 911.4 1113.1 912.9 1117.4 914.8 1121.9 916.3 1113.1 917.4 1098.9 918.9 1093.1 919.6 1091 920.6 1081.9 921.7 1093.1 923.1 1096.7 924.3 1091.7 925.8 1082.7 927.1 1086.7 928.1 1086 929.1 1088.9 930.3 1106 931.4 1108.9 932.3 1104.6 932.9 1070.3 933.6 1046.1 934.6 1073.1 935.7 1084.6 936.7 1093.9 938.1 1098.9 938.9 1099.6 940 1113.1 941.7 1123.1 943.1 1134.6 943.9 1136.2 960 1136.2" stroke="#4169e1" stroke-width="2.9" stroke-linejoin="round" stroke-linecap="butt" fill="none" clip-path="url(#c3_1)"/>
<rect x="633.5" y="959.5" width="404" height="178" fill="none" stroke="#cccccc" stroke-width="2.78"/>
<text x="634.22" y="943.03" font-size="20.61" textLength="199.8" lengthAdjust="spacingAndGlyphs">Al3Ti(D022)(x=0.25)</text>
<text x="632.72" y="1171.56" font-size="17.8" textLength="32.3" lengthAdjust="spacingAndGlyphs">−10</text>
<text x="715.55" y="1171.56" font-size="17.8" textLength="21.9" lengthAdjust="spacingAndGlyphs">−5</text>
<text x="799.66" y="1171.56" font-size="17.8" textLength="9.05" lengthAdjust="spacingAndGlyphs">0</text>
<text x="877.63" y="1171.56" font-size="17.8" textLength="8.53" lengthAdjust="spacingAndGlyphs">5</text>
<text x="950.18" y="1171.56" font-size="17.8" textLength="19.2" lengthAdjust="spacingAndGlyphs">10</text>
<text x="1027.97" y="1171.56" font-size="17.8" textLength="18.88" lengthAdjust="spacingAndGlyphs">15</text>
<text x="584.21" y="1142.31" font-size="17.8" textLength="24.34" lengthAdjust="spacingAndGlyphs">0.0</text>
<text x="584.2" y="1094.81" font-size="17.8" textLength="24.04" lengthAdjust="spacingAndGlyphs">0.5</text>
<text x="584.26" y="1047.31" font-size="17.8" textLength="24.28" lengthAdjust="spacingAndGlyphs">1.0</text>
<text x="584.26" y="999.81" font-size="17.8" textLength="23.98" lengthAdjust="spacingAndGlyphs">1.5</text>
<text x="547.91" y="1050.23" font-size="20.61" textLength="41.68" lengthAdjust="spacingAndGlyphs" transform="rotate(-90 568.69 1050.23)">DOS</text>
</g>
<g>
<path d="M1172 1137.56V959.7M1250 1137.56V959.7M1328 1137.56V959.7M1405 1137.56V959.7M1483 1137.56V959.7M1561 1137.56V959.7M1157.03 1136H1561.03M1157.03 1089H1561.03M1157.03 1041H1561.03M1157.03 994H1561.03" stroke="#cccccc" stroke-width="2.22" stroke-dasharray="8.22 3.56" fill="none"/>
<path d="M1298.3 1136.2 1309.3 1136.2 1310.7 1127.4 1312.1 1122.4 1314 1120.6 1315.4 1117.4 1316.9 1117.1 1318.3 1118.9 1319.3 1112.4 1320 1109.1 1320.9 1109.6 1321.7 1117.4 1322.9 1122.4 1324.3 1125.7 1327.1 1126.7 1330 1127.1 1332.6 1127.7 1334.3 1121.7 1335.7 1114.6 1336.9 1110.3 1337.9 1109.6 1339.3 1100.3 1340.4 1092.4 1341.4 1094.6 1342.6 1087.4 1343.6 1083.1 1344.3 1093.9 1344.9 1056 1345.9 1020.9 1347.1 1070.3 1348.3 1071 1349.3 1074.6 1350.9 1095.4 1352.5 1054.4 1353.4 1103.1 1354.3 1104.6 1355.4 1101.7 1356.4 1101 1357.4 1093.9 1358.6 1095.3 1359.7 1080.3 1360.7 1064.6 1361.4 1060.3 1362.1 1074.6 1362.9 1058.9 1363.9 1054.1 1365 1077.4 1366.1 1099.7 1367.7 1055.9 1369 1067.4 1369.9 1037 1371.1 1103.3 1372.6 1064.1 1374 1084.6 1375.2 1097.6 1376.4 1081.7 1377.1 1096.7 1377.9 1093.1 1378.3 1047.4 1378.9 1046 1379.7 1046.3 1380.4 1056 1381.1 1062.4 1382.1 1067.4 1382.9 1098.9 1384.1 1124.7 1385.3 1111.7 1386 1111 1386.8 1069.9 1388 1090.7 1389.3 1077.3 1390.6 1088.9 1391.9 1109.7 1392.9 1083.1 1393.7 1082.4 1394.6 1085.3 1395.4 1088.1 1396.4 1094.3 1397.1 1084.6 1398.3 1088.9 1398.9 1073.1 1399.7 1072.4 1400.7 1062.4 1401.9 1054.1 1403.1 1064.6 1403.9 1084.6 1404.7 1089.6 1405.4 1091.7 1406.4 1092.4 1407.3 1074.1 1408.6 1109 1410.2 1088.4 1411.4 1098.9 1412.9 1107.4 1414.3 1111.7 1416 1114.6 1417.4 1114.9 1418.3 1127.4 1418.9 1136.2 1430 1136.2" stroke="#4169e1" stroke-width="2.9" stroke-linejoin="round" stroke-linecap="butt" fill="none" clip-path="url(#c3_2)"/>
<rect x="1157.5" y="959.5" width="404" height="178" fill="none" stroke="#cccccc" stroke-width="2.78"/>
<text x="1157.96" y="943.03" font-size="20.61" textLength="199.8" lengthAdjust="spacingAndGlyphs">Al3Ti(D022)(x=0.75)</text>
<text x="1156.46" y="1171.56" font-size="17.8" textLength="32.3" lengthAdjust="spacingAndGlyphs">−10</text>
<text x="1239.29" y="1171.56" font-size="17.8" textLength="21.9" lengthAdjust="spacingAndGlyphs">−5</text>
<text x="1323.4" y="1171.56" font-size="17.8" textLength="9.05" lengthAdjust="spacingAndGlyphs">0</text>
<text x="1401.37" y="1171.56" font-size="17.8" textLength="8.53" lengthAdjust="spacingAndGlyphs">5</text>
<text x="1473.92" y="1171.56" font-size="17.8" textLength="19.2" lengthAdjust="spacingAndGlyphs">10</text>
<text x="1551.71" y="1171.56" font-size="17.8" textLength="18.88" lengthAdjust="spacingAndGlyphs">15</text>
<text x="1107.95" y="1142.31" font-size="17.8" textLength="24.34" lengthAdjust="spacingAndGlyphs">0.0</text>
<text x="1107.94" y="1094.81" font-size="17.8" textLength="24.04" lengthAdjust="spacingAndGlyphs">0.5</text>
<text x="1108" y="1047.31" font-size="17.8" textLength="24.28" lengthAdjust="spacingAndGlyphs">1.0</text>
<text x="1108" y="999.81" font-size="17.8" textLength="23.98" lengthAdjust="spacingAndGlyphs">1.5</text>
<text x="1071.65" y="1050.23" font-size="20.61" textLength="41.68" lengthAdjust="spacingAndGlyphs" transform="rotate(-90 1092.43 1050.23)">DOS</text>
</g>
<g>
<path d="M125 1417.88V1240.02M202 1417.88V1240.02M280 1417.88V1240.02M358 1417.88V1240.02M436 1417.88V1240.02M513 1417.88V1240.02M109.55 1417H513.55M109.55 1369H513.55M109.55 1322H513.55M109.55 1274H513.55" stroke="#cccccc" stroke-width="2.22" stroke-dasharray="8.22 3.56" fill="none"/>
<path d="M220 1416.5 237.4 1416.5 239.3 1408.9 242.1 1402.4 245 1395.3 247.4 1390.3 248.9 1383.1 250.3 1375.3 251.6 1367.6 252.6 1386 253.6 1396.7 255.7 1399.1 257.1 1391 259.4 1383.7 261.1 1391 263.1 1399.3 265 1393.7 266.1 1399.6 267.6 1393.7 268.9 1398.1 270.7 1398.1 272.9 1401 275 1404.6 277.1 1407.1 279.3 1408.6 282.9 1408.6 285 1407.4 287.4 1404.6 289.7 1401.7 291.4 1396 292.6 1386 293.4 1345.9 294.6 1373.1 295.7 1384.6 296.4 1386 297.4 1398.1 299.3 1401 300.7 1400.3 302.1 1394.6 303.6 1389.6 304.6 1378.9 305.7 1360.3 306.8 1351.9 307.9 1361.7 308.9 1354.4 310.3 1363.9 311.6 1350.9 312.9 1364.6 313.6 1386 314.6 1406 316 1411.7 317.9 1414.6 319.7 1410.3 321.4 1402.4 323.6 1398.9 325.4 1394.6 327.1 1393.4 328.6 1393.9 329.6 1385.9 331.1 1393.1 332.1 1401.7 333.6 1406 337.1 1408.1 341.4 1410.3 345.7 1412.4 350 1413.9 353.1 1414.6 354.3 1413.1 355 1393.1 356 1350.3 357.1 1336 358.3 1307.4 358.9 1237.4 361.7 1237.4 362.1 1321.7 362.6 1378.9 362.9 1408.1 365 1407.7 367.4 1405.7 369.7 1402.4 371.1 1397.4 372.7 1373 374.6 1380.3 376 1384.6 377.9 1389.6 379.3 1400.3 381.1 1411 381.7 1416.5 385 1416.5 385.7 1411 386.9 1406 387.6 1393.1 388.3 1368.9 389.1 1368.1 390 1371.7 391.1 1375.7 392.6 1374.9 394 1371.7 395 1360.3 395.7 1353.4 396.6 1353.1 397.4 1354.6 399 1366.1 400.4 1347 401.4 1366 402.6 1369.6 403.6 1370.3 404.6 1374.6 406 1378.9 407.4 1381 408.6 1378.9 409.6 1379.1 410.3 1400.3 411.1 1416.5 428.9 1416.5" stroke="#4169e1" stroke-width="2.9" stroke-linejoin="round" stroke-linecap="butt" fill="none" clip-path="url(#c4_0)"/>
<rect x="109.5" y="1240.5" width="404" height="177" fill="none" stroke="#cccccc" stroke-width="2.78"/>
<text x="110.48" y="1223.35" font-size="20.61" textLength="221.49" lengthAdjust="spacingAndGlyphs">AlCu2Mn(L21)(x=0.25)</text>
<text x="108.98" y="1451.88" font-size="17.8" textLength="32.3" lengthAdjust="spacingAndGlyphs">−10</text>
<text x="191.81" y="1451.88" font-size="17.8" textLength="21.9" lengthAdjust="spacingAndGlyphs">−5</text>
<text x="275.92" y="1451.88" font-size="17.8" textLength="9.05" lengthAdjust="spacingAndGlyphs">0</text>
<text x="353.89" y="1451.88" font-size="17.8" textLength="8.53" lengthAdjust="spacingAndGlyphs">5</text>
<text x="426.44" y="1451.88" font-size="17.8" textLength="19.2" lengthAdjust="spacingAndGlyphs">10</text>
<text x="504.23" y="1451.88" font-size="17.8" textLength="18.88" lengthAdjust="spacingAndGlyphs">15</text>
<text x="60.47" y="1422.63" font-size="17.8" textLength="24.34" lengthAdjust="spacingAndGlyphs">0.0</text>
<text x="60.46" y="1375.13" font-size="17.8" textLength="24.04" lengthAdjust="spacingAndGlyphs">0.5</text>
<text x="60.52" y="1327.63" font-size="17.8" textLength="24.28" lengthAdjust="spacingAndGlyphs">1.0</text>
<text x="60.52" y="1280.13" font-size="17.8" textLength="23.98" lengthAdjust="spacingAndGlyphs">1.5</text>
<text x="24.17" y="1330.55" font-size="20.61" textLength="41.68" lengthAdjust="spacingAndGlyphs" transform="rotate(-90 44.95 1330.55)">DOS</text>
</g>
<g>
<path d="M648 1417.88V1240.02M726 1417.88V1240.02M804 1417.88V1240.02M882 1417.88V1240.02M959 1417.88V1240.02M1037 1417.88V1240.02M633.29 1417H1037.29M633.29 1369H1037.29M633.29 1322H1037.29M633.29 1274H1037.29" stroke="#cccccc" stroke-width="2.22" stroke-dasharray="8.22 3.56" fill="none"/>
<path d="M773 1416.5 783.1 1416.5 784.6 1400.3 786.3 1386 787.7 1373.1 788.6 1350.3 789.1 1338.9 789.7 1357.4 790.3 1336 791 1357.4 791.7 1334.6 792.6 1323.7 793.4 1358.1 793.9 1336 794.6 1364.6 795.6 1386 796.4 1401.7 797.4 1402.4 798.4 1400.3 799.6 1403.1 801.4 1406 803.4 1408.1 805.3 1408.6 806.3 1413.1 808.1 1414.3 809.6 1413.4 811 1415.3 814.6 1415.3 816 1407.4 817 1396 818.1 1394.6 819.1 1386 820 1373.1 820.7 1358.9 821.9 1350.9 823.1 1364.6 823.9 1380.3 824.9 1393.1 826.3 1401.7 828.1 1407.4 830.3 1410.3 830.9 1404.6 831.3 1350.3 832.1 1259.9 833.5 1318.3 834.6 1259.6 835.1 1258.9 835.7 1258.6 836.3 1321.7 837.1 1377.4 837.9 1360.3 838.8 1390.4 839.9 1336 841.1 1293.7 842.4 1336 843.1 1378.9 844.3 1403.1 845.7 1411.7 846.7 1416.5 849.6 1416.5 850.6 1410.3 852.4 1397.4 853.9 1383.1 854.9 1364.6 856 1361.7 856.7 1321.7 857.1 1281 857.9 1279.6 858.4 1325.3 859.1 1281.7 860 1324.7 860.9 1278.9 861.9 1250.4 862.9 1307.4 863.6 1350.3 864.6 1371.7 865.7 1393.1 867.1 1410.3 867.7 1416.5 870 1416.5 870.6 1393.1 871 1350.3 871.7 1348.9 872.4 1348.6 873.6 1360.7 874.6 1350.3 875.3 1354.6 875.9 1340.3 876.7 1339.6 877.4 1338.9 878 1338.1 878.6 1353.9 879.6 1354.6 880.3 1354.3 881.4 1329.9 882.4 1350.3 883.1 1367.4 883.9 1350.3 884.3 1368.1 884.9 1321.7 885.7 1313.3 886.7 1350.3 887.4 1378.9 888.3 1400.3 889.1 1416.5 899.6 1416.5" stroke="#4169e1" stroke-width="2.9" stroke-linejoin="round" stroke-linecap="butt" fill="none" clip-path="url(#c4_1)"/>
<rect x="633.5" y="1240.5" width="404" height="177" fill="none" stroke="#cccccc" stroke-width="2.78"/>
<text x="634.22" y="1223.35" font-size="20.61" textLength="221.49" lengthAdjust="spacingAndGlyphs">AlCu2Mn(L21)(x=0.75)</text>
<text x="632.72" y="1451.88" font-size="17.8" textLength="32.3" lengthAdjust="spacingAndGlyphs">−10</text>
<text x="715.55" y="1451.88" font-size="17.8" textLength="21.9" lengthAdjust="spacingAndGlyphs">−5</text>
<text x="799.66" y="1451.88" font-size="17.8" textLength="9.05" lengthAdjust="spacingAndGlyphs">0</text>
<text x="877.63" y="1451.88" font-size="17.8" textLength="8.53" lengthAdjust="spacingAndGlyphs">5</text>
<text x="950.18" y="1451.88" font-size="17.8" textLength="19.2" lengthAdjust="spacingAndGlyphs">10</text>
<text x="1027.97" y="1451.88" font-size="17.8" textLength="18.88" lengthAdjust="spacingAndGlyphs">15</text>
<text x="584.21" y="1422.63" font-size="17.8" textLength="24.34" lengthAdjust="spacingAndGlyphs">0.0</text>
<text x="584.2" y="1375.13" font-size="17.8" textLength="24.04" lengthAdjust="spacingAndGlyphs">0.5</text>
<text x="584.26" y="1327.63" font-size="17.8" textLength="24.28" lengthAdjust="spacingAndGlyphs">1.0</text>
<text x="584.26" y="1280.13" font-size="17.8" textLength="23.98" lengthAdjust="spacingAndGlyphs">1.5</text>
<text x="547.91" y="1330.55" font-size="20.61" textLength="41.68" lengthAdjust="spacingAndGlyphs" transform="rotate(-90 568.69 1330.55)">DOS</text>
</g>
<g>
<path d="M1172 1417.88V1240.02M1250 1417.88V1240.02M1328 1417.88V1240.02M1405 1417.88V1240.02M1483 1417.88V1240.02M1561 1417.88V1240.02M1157.03 1417H1561.03M1157.03 1369H1561.03M1157.03 1322H1561.03M1157.03 1274H1561.03" stroke="#cccccc" stroke-width="2.22" stroke-dasharray="8.22 3.56" fill="none"/>
<path d="M1316.4 1416.5 1331.4 1416.5 1335.7 1414.6 1338.6 1412.9 1341.4 1409.6 1344.3 1404.6 1346 1399.6 1347.4 1393.9 1348.9 1391 1349.7 1389.6 1350.5 1349.4 1351.7 1359.1 1352.3 1336 1352.9 1293.1 1353.7 1262.4 1354.9 1293.1 1355.7 1321.7 1356.4 1341.7 1357.4 1351.4 1358.6 1348.1 1359.4 1348.6 1360.7 1369 1361.7 1338.9 1362.6 1329.4 1363.7 1337.4 1364.7 1340 1365.4 1350.3 1366.3 1368.9 1367.1 1386 1368 1398.9 1369.3 1402.4 1370.3 1406 1371.1 1414.6 1371.7 1416.5 1373.6 1414.9 1375 1410.6 1377.1 1410 1379.3 1410.3 1382.1 1409.1 1385 1407.4 1387.9 1405.3 1388.9 1397.4 1390 1391.7 1391.1 1384.6 1391.9 1378.6 1392.9 1378.9 1394.3 1381 1395.7 1382.4 1397.1 1384.6 1399.3 1384.6 1400 1373.1 1400.7 1350.3 1401.6 1341.3 1402.6 1357.4 1403.6 1351.9 1404.6 1364.6 1406.4 1374.7 1408.6 1363.3 1410.5 1373 1412 1364.6 1413.1 1363.4 1413.9 1364.6 1414.6 1378.9 1415.4 1386 1416.9 1385.7 1417.9 1384.6 1418.3 1350.3 1419.3 1340.9 1420.9 1377.6 1422.5 1371.3 1423.9 1378.9 1424.7 1383.1 1425.7 1381.7 1426.6 1376.7 1427.4 1382 1428.6 1365.1 1429.7 1371.7 1430.4 1371 1431.6 1385.9 1433 1372.7 1434.4 1392.6 1435.4 1371.7 1436.4 1350.4 1437.3 1391 1437.9 1392.9 1438.6 1392.4 1439.3 1364.6 1440 1354.3 1441.4 1354 1442.6 1354.9 1443.4 1363.1 1444.6 1368.9 1445.7 1373.1 1446.9 1380.3 1447.9 1387.4 1448.9 1393.1 1450 1392.9 1451.1 1397.4 1452.6 1403.1 1453.6 1409.1 1454.6 1406.7 1455.7 1406.3 1456.9 1408.9 1457.9 1416.5 1464 1416.5 1465 1408.9 1466.4 1407.1 1467.9 1406 1468.9 1409.6 1470.7 1410.6 1473.6 1410.3 1476.4 1409.6 1479.3 1409.1 1482.1 1408.1 1485 1406.3 1486.9 1403.1 1488.6 1400.3 1489.4 1400 1490.7 1403.1 1492.1 1407.4 1493.1 1412.4 1493.7 1416.5 1509.9 1416.5" stroke="#4169e1" stroke-width="2.9" stroke-linejoin="round" stroke-linecap="butt" fill="none" clip-path="url(#c4_2)"/>
<rect x="1157.5" y="1240.5" width="404" height="177" fill="none" stroke="#cccccc" stroke-width="2.78"/>
<text x="1157.7" y="1223.35" font-size="20.61" textLength="188.73" lengthAdjust="spacingAndGlyphs">InNi2(B82)(x=0.33)</text>
<text x="1156.46" y="1451.88" font-size="17.8" textLength="32.3" lengthAdjust="spacingAndGlyphs">−10</text>
<text x="1239.29" y="1451.88" font-size="17.8" textLength="21.9" lengthAdjust="spacingAndGlyphs">−5</text>
<text x="1323.4" y="1451.88" font-size="17.8" textLength="9.05" lengthAdjust="spacingAndGlyphs">0</text>
<text x="1401.37" y="1451.88" font-size="17.8" textLength="8.53" lengthAdjust="spacingAndGlyphs">5</text>
<text x="1473.92" y="1451.88" font-size="17.8" textLength="19.2" lengthAdjust="spacingAndGlyphs">10</text>
<text x="1551.71" y="1451.88" font-size="17.8" textLength="18.88" lengthAdjust="spacingAndGlyphs">15</text>
<text x="1107.95" y="1422.63" font-size="17.8" textLength="24.34" lengthAdjust="spacingAndGlyphs">0.0</text>
<text x="1107.94" y="1375.13" font-size="17.8" textLength="24.04" lengthAdjust="spacingAndGlyphs">0.5</text>
<text x="1108" y="1327.63" font-size="17.8" textLength="24.28" lengthAdjust="spacingAndGlyphs">1.0</text>
<text x="1108" y="1280.13" font-size="17.8" textLength="23.98" lengthAdjust="spacingAndGlyphs">1.5</text>
<text x="1071.65" y="1330.55" font-size="20.61" textLength="41.68" lengthAdjust="spacingAndGlyphs" transform="rotate(-90 1092.43 1330.55)">DOS</text>
</g>
<g>
<path d="M125 1698.2V1520.34M202 1698.2V1520.34M280 1698.2V1520.34M358 1698.2V1520.34M436 1698.2V1520.34M513 1698.2V1520.34M109.55 1697H513.55M109.55 1649H513.55M109.55 1602H513.55M109.55 1554H513.55" stroke="#cccccc" stroke-width="2.22" stroke-dasharray="8.22 3.56" fill="none"/>
<path d="M249 1696.8 262.7 1696.8 263.7 1681.3 264.6 1669.9 265.6 1666.3 266.6 1654.1 267.6 1647.6 268.7 1657.7 269.4 1650.6 270.1 1657.7 271.3 1650 272.7 1657.7 273.7 1668.4 274.6 1677 276 1683.4 277.7 1687.7 279.4 1690.1 281.3 1690.6 283.1 1689.6 284.6 1685.6 285.6 1677 286.3 1659.9 287.4 1654.9 288.4 1653.4 289.4 1662.7 290.3 1668.4 291.7 1669.6 292.7 1670.1 293.7 1664.1 294.9 1659.9 296 1649.9 296.6 1642.7 297.3 1643 298.4 1635.7 299.7 1659.3 300.6 1631.3 301.3 1628.7 302.3 1635 303.1 1614.1 303.7 1617 304.3 1583.9 305.1 1583.4 306 1587 306.9 1587.3 307.4 1617 308.4 1646.4 309.7 1637.6 310.9 1648.4 312 1655.6 313.1 1662.7 314 1663.4 314.6 1661.3 315.1 1638.4 315.9 1637.3 316.6 1639.9 317.4 1678.9 318.6 1671.3 319.4 1671 320 1645.6 320.9 1643.4 321.4 1643.9 322.4 1597.6 323.4 1624.1 324.3 1642.7 325.4 1651.3 326.6 1654.9 327.7 1657.7 328.6 1654.1 329.1 1654.4 329.9 1674.1 331 1679.7 332.3 1674.9 333.4 1671.3 334.6 1665.6 335.6 1663.4 336.6 1663.9 337.4 1674.1 338.4 1685.6 339.7 1692.9 340.6 1674.1 341.3 1652.7 342 1651.3 342.9 1652.7 343.7 1641.3 344.6 1627 345.3 1623.4 346 1623.9 346.6 1642.7 347.4 1654.1 348.3 1667 349.4 1674.9 350.9 1677.7 352.3 1680.6 353.4 1684.9 354.6 1694.1 355.1 1696.8 380.6 1696.8 381.7 1674.1 382.7 1642.7 383.4 1614.1 384.3 1602.7 385.1 1588.4 386 1587 386.6 1602.7 387.4 1580 388.7 1666.4 390.4 1606.6 391.7 1645.6 392.6 1650.6 393.4 1654.1 394.3 1650.6 394.9 1657.7 395.7 1654.1 396.9 1654.4 397.4 1681.3 398 1696.8 411.7 1696.8" stroke="#4169e1" stroke-width="2.9" stroke-linejoin="round" stroke-linecap="butt" fill="none" clip-path="url(#c5_0)"/>
<rect x="109.5" y="1520.5" width="404" height="178" fill="none" stroke="#cccccc" stroke-width="2.78"/>
<text x="110.22" y="1503.67" font-size="20.61" textLength="188.73" lengthAdjust="spacingAndGlyphs">InNi2(B82)(x=0.67)</text>
<text x="108.98" y="1732.2" font-size="17.8" textLength="32.3" lengthAdjust="spacingAndGlyphs">−10</text>
<text x="191.81" y="1732.2" font-size="17.8" textLength="21.9" lengthAdjust="spacingAndGlyphs">−5</text>
<text x="275.92" y="1732.2" font-size="17.8" textLength="9.05" lengthAdjust="spacingAndGlyphs">0</text>
<text x="353.89" y="1732.2" font-size="17.8" textLength="8.53" lengthAdjust="spacingAndGlyphs">5</text>
<text x="426.44" y="1732.2" font-size="17.8" textLength="19.2" lengthAdjust="spacingAndGlyphs">10</text>
<text x="504.23" y="1732.2" font-size="17.8" textLength="18.88" lengthAdjust="spacingAndGlyphs">15</text>
<text x="60.47" y="1702.95" font-size="17.8" textLength="24.34" lengthAdjust="spacingAndGlyphs">0.0</text>
<text x="60.46" y="1655.45" font-size="17.8" textLength="24.04" lengthAdjust="spacingAndGlyphs">0.5</text>
<text x="60.52" y="1607.95" font-size="17.8" textLength="24.28" lengthAdjust="spacingAndGlyphs">1.0</text>
<text x="60.52" y="1560.45" font-size="17.8" textLength="23.98" lengthAdjust="spacingAndGlyphs">1.5</text>
<text x="24.17" y="1610.87" font-size="20.61" textLength="41.68" lengthAdjust="spacingAndGlyphs" transform="rotate(-90 44.95 1610.87)">DOS</text>
</g>
<g>
<path d="M648 1698.2V1520.34M726 1698.2V1520.34M804 1698.2V1520.34M882 1698.2V1520.34M959 1698.2V1520.34M1037 1698.2V1520.34M633.29 1697H1037.29M633.29 1649H1037.29M633.29 1602H1037.29M633.29 1554H1037.29" stroke="#cccccc" stroke-width="2.22" stroke-dasharray="8.22 3.56" fill="none"/>
<path d="M793.9 1696.8 806.7 1696.8 810.3 1695.3 813.1 1693.4 815.3 1691.3 816.7 1687.7 818.1 1682.7 818.9 1674.1 819.3 1661.3 820.3 1655.6 821.4 1652.4 822.4 1652.7 823.1 1638.4 823.9 1617 824.6 1604 825.4 1659.9 826.4 1679.7 827.7 1674.1 828.6 1659.9 829.1 1624.1 829.7 1634.9 830.3 1574.1 831.3 1554.7 832.3 1635.6 832.9 1617 833.4 1646.7 834.4 1605.4 835.7 1631.3 836.4 1659.9 837.1 1671.3 838 1674.1 838.9 1668.4 840 1659.9 841.3 1655.4 842.4 1667 843.4 1675.4 844.3 1659.9 845.3 1659.1 846 1662.7 846.6 1645.6 847.5 1619 848.3 1659.9 848.9 1679.9 850 1679.6 851 1681.3 851.7 1688.4 852.4 1696.8 855.7 1696.8 856.7 1677 857.4 1669.1 858.6 1667.7 859.6 1668.4 860.3 1670.6 861.1 1659.9 862 1655.6 862.9 1655.3 863.7 1658.4 865.1 1663.6 866.3 1657 867.2 1634 868.1 1659.9 868.9 1631.3 869.9 1618.6 871 1674.3 871.7 1631.3 872.4 1615.6 873.6 1601.1 874.9 1609.9 875.4 1631.3 876 1659.9 876.6 1684.1 877.7 1687 879.1 1688.4 880.6 1691.3 882 1693.9 883.1 1689.1 884.3 1690.6 885.7 1688.4 887.1 1685.6 888.1 1674.1 889.1 1656.1 890.3 1666.3 891.1 1657.7 892 1658.1 892.9 1657.7 893.4 1667 894.6 1666.3 895.7 1669.9 897.1 1679.7 898 1664.1 898.9 1674.1 899.6 1655.6 900.6 1654.1 901.4 1649.4 902.3 1674.1 903.2 1685.7 904.6 1677 906 1674.1 907.4 1674.9 909.1 1675.3 910.3 1669.9 911.7 1669.6 913.1 1670.6 914.3 1672 915.7 1672.7 916.7 1677.7 918.1 1679.6 919.6 1679.1 921 1678.4 922.1 1666.6 923.1 1679.1 924.1 1649.4 925.6 1680.7 926.7 1645.6 927.4 1588.4 928.7 1551.4 929.7 1588.4 930.3 1631.3 931.4 1652.7 932.6 1662.7 934.4 1670.7 935.7 1659.9 936.3 1631.3 937.1 1600 938 1631.3 938.6 1659.9 939.3 1675.6 940.3 1645.4 941.4 1667 942.3 1647.1 943.1 1671.3 944.3 1682.7 945.7 1689.9 947.1 1696.8 960.1 1696.8" stroke="#4169e1" stroke-width="2.9" stroke-linejoin="round" stroke-linecap="butt" fill="none" clip-path="url(#c5_1)"/>
<rect x="633.5" y="1520.5" width="404" height="178" fill="none" stroke="#cccccc" stroke-width="2.78"/>
<text x="634.26" y="1503.67" font-size="20.61" textLength="184.44" lengthAdjust="spacingAndGlyphs">Fe2P(C22)(x=0.33)</text>
<text x="632.72" y="1732.2" font-size="17.8" textLength="32.3" lengthAdjust="spacingAndGlyphs">−10</text>
<text x="715.55" y="1732.2" font-size="17.8" textLength="21.9" lengthAdjust="spacingAndGlyphs">−5</text>
<text x="799.66" y="1732.2" font-size="17.8" textLength="9.05" lengthAdjust="spacingAndGlyphs">0</text>
<text x="877.63" y="1732.2" font-size="17.8" textLength="8.53" lengthAdjust="spacingAndGlyphs">5</text>
<text x="950.18" y="1732.2" font-size="17.8" textLength="19.2" lengthAdjust="spacingAndGlyphs">10</text>
<text x="1027.97" y="1732.2" font-size="17.8" textLength="18.88" lengthAdjust="spacingAndGlyphs">15</text>
<text x="584.21" y="1702.95" font-size="17.8" textLength="24.34" lengthAdjust="spacingAndGlyphs">0.0</text>
<text x="584.2" y="1655.45" font-size="17.8" textLength="24.04" lengthAdjust="spacingAndGlyphs">0.5</text>
<text x="584.26" y="1607.95" font-size="17.8" textLength="24.28" lengthAdjust="spacingAndGlyphs">1.0</text>
<text x="584.26" y="1560.45" font-size="17.8" textLength="23.98" lengthAdjust="spacingAndGlyphs">1.5</text>
<text x="547.91" y="1610.87" font-size="20.61" textLength="41.68" lengthAdjust="spacingAndGlyphs" transform="rotate(-90 568.69 1610.87)">DOS</text>
</g>
<g>
<path d="M1172 1698.2V1520.34M1250 1698.2V1520.34M1328 1698.2V1520.34M1405 1698.2V1520.34M1483 1698.2V1520.34M1561 1698.2V1520.34M1157.03 1697H1561.03M1157.03 1649H1561.03M1157.03 1602H1561.03M1157.03 1554H1561.03" stroke="#cccccc" stroke-width="2.22" stroke-dasharray="8.22 3.56" fill="none"/>
<path d="M1306.4 1696.8 1321.4 1696.8 1322.1 1693 1323.6 1691.6 1325.4 1693.4 1327.9 1693 1330 1690.6 1332.1 1686.3 1334 1678.4 1335.1 1668.4 1336 1658.4 1336.6 1655.9 1337.4 1667 1338.3 1668.4 1338.9 1669.1 1339.9 1622.9 1341.1 1635.6 1342.4 1647.9 1343.7 1642 1344.3 1647.7 1345.6 1640.9 1347.1 1649.3 1348.1 1617 1349.1 1607.1 1350 1624.9 1350.7 1609.9 1351.4 1625.6 1352.6 1572.6 1353.7 1599.9 1354.3 1617 1355.3 1632.9 1356.6 1621.3 1357.4 1620.6 1358.4 1601.9 1359.7 1627 1360.6 1622 1361.1 1641.3 1362.2 1652.6 1363.3 1598 1364.3 1631.3 1365.5 1644.3 1366.6 1617 1367.5 1591.9 1368.6 1617 1369.1 1643.4 1370.1 1615.4 1371.1 1645.6 1371.7 1663.4 1372.9 1664.1 1374 1664.9 1374.9 1659.9 1376.1 1645.1 1377.1 1659.9 1378.1 1638.6 1379.3 1667 1380.4 1671.4 1381.7 1662.7 1382.9 1659.9 1384 1658.4 1384.7 1658.1 1385.3 1688.4 1386 1696.8 1416.4 1696.8 1416.9 1683.4 1418 1682.7 1418.6 1683.9 1419.5 1635.4 1420.9 1675.6 1421.9 1639.4 1422.9 1659.9 1423.9 1674.6 1425.2 1624 1426.3 1649.9 1427.3 1645.1 1428.6 1659.9 1430 1679.7 1431.7 1675.6 1433 1668 1434.4 1686 1435.4 1666.3 1436.1 1665.6 1436.9 1664.9 1437.4 1696.8 1437.9 1688.4 1438.3 1659.9 1438.9 1638.7 1439.7 1638.4 1440.4 1639.1 1441.1 1638.7 1442 1645.6 1442.9 1659.9 1443.6 1665.6 1444.6 1665.3 1445.4 1674.1 1446 1688.4 1446.4 1696.8 1451.1 1696.8 1451.7 1645.6 1452.7 1606.1 1453.7 1645.6 1454.6 1674.1 1455.7 1687.1 1456.6 1659.9 1457.5 1647.1 1458.6 1659.9 1459.3 1657 1460 1657.7 1460.7 1674.1 1461.4 1692.7 1462 1696.8 1462.4 1688.4 1463.6 1662.3 1464.9 1677.7 1466 1678.1 1466.9 1677 1467.9 1665.7 1469 1671.3 1469.7 1688.4 1470.3 1696.8 1485 1696.8" stroke="#4169e1" stroke-width="2.9" stroke-linejoin="round" stroke-linecap="butt" fill="none" clip-path="url(#c5_2)"/>
<rect x="1157.5" y="1520.5" width="404" height="178" fill="none" stroke="#cccccc" stroke-width="2.78"/>
<text x="1158" y="1503.67" font-size="20.61" textLength="184.44" lengthAdjust="spacingAndGlyphs">Fe2P(C22)(x=0.67)</text>
<text x="1156.46" y="1732.2" font-size="17.8" textLength="32.3" lengthAdjust="spacingAndGlyphs">−10</text>
<text x="1239.29" y="1732.2" font-size="17.8" textLength="21.9" lengthAdjust="spacingAndGlyphs">−5</text>
<text x="1323.4" y="1732.2" font-size="17.8" textLength="9.05" lengthAdjust="spacingAndGlyphs">0</text>
<text x="1401.37" y="1732.2" font-size="17.8" textLength="8.53" lengthAdjust="spacingAndGlyphs">5</text>
<text x="1473.92" y="1732.2" font-size="17.8" textLength="19.2" lengthAdjust="spacingAndGlyphs">10</text>
<text x="1551.71" y="1732.2" font-size="17.8" textLength="18.88" lengthAdjust="spacingAndGlyphs">15</text>
<text x="1107.95" y="1702.95" font-size="17.8" textLength="24.34" lengthAdjust="spacingAndGlyphs">0.0</text>
<text x="1107.94" y="1655.45" font-size="17.8" textLength="24.04" lengthAdjust="spacingAndGlyphs">0.5</text>
<text x="1108" y="1607.95" font-size="17.8" textLength="24.28" lengthAdjust="spacingAndGlyphs">1.0</text>
<text x="1108" y="1560.45" font-size="17.8" textLength="23.98" lengthAdjust="spacingAndGlyphs">1.5</text>
<text x="1071.65" y="1610.87" font-size="20.61" textLength="41.68" lengthAdjust="spacingAndGlyphs" transform="rotate(-90 1092.43 1610.87)">DOS</text>
</g>
<g>
<path d="M125 1978.52V1800.66M202 1978.52V1800.66M280 1978.52V1800.66M358 1978.52V1800.66M436 1978.52V1800.66M513 1978.52V1800.66M109.55 1977H513.55M109.55 1930H513.55M109.55 1882H513.55M109.55 1835H513.55" stroke="#cccccc" stroke-width="2.22" stroke-dasharray="8.22 3.56" fill="none"/>
<path d="M227.9 1977.2 246.4 1977.2 250 1975.6 254.3 1974.9 258.6 1974.1 262.1 1973 264 1970.6 265.3 1968.7 266.4 1971 268.6 1972 271.4 1972.4 275 1973.9 280 1974.1 283.6 1973.4 285.7 1972 288.3 1968.4 290.7 1963.4 292.9 1957.7 294.3 1951.3 295.1 1939.9 295.7 1919.9 297.1 1912.7 298.4 1906.9 299.9 1918.6 300.9 1891.3 301.7 1889.1 302.8 1898.6 304.1 1861.9 305.3 1871.3 306 1854.1 306.8 1827.1 307.6 1854.1 308 1868.4 308.9 1865.6 309.6 1871.3 310.3 1930 311.5 1870 312.3 1911.3 312.9 1939.9 313.6 1954.1 314.6 1961.3 316 1964.1 317.9 1963.9 319.3 1963.4 321.1 1965.6 322.1 1954.1 323.6 1951.6 325 1952 326.9 1952.4 327.4 1961.3 328.4 1968.6 329.7 1951.3 330.6 1950.1 331.7 1954.1 332.9 1957.7 334 1958.4 335 1963.4 336 1966.7 337.1 1966.3 338.3 1959.9 339.3 1952.7 340.6 1946.9 341.9 1957 343.4 1971.1 345 1959.9 346.1 1946.6 347.4 1956.3 348.9 1955.9 350.3 1953.4 351.7 1947.7 353.6 1944.9 355 1942.7 356 1932.7 357.1 1926.6 358.6 1937 359.7 1954.1 361.1 1955.3 362.3 1957.7 362.9 1957.3 363.7 1939.9 365.3 1926.1 366.6 1939.9 367.4 1957 368.3 1967 370 1969.1 372.1 1967.7 374.3 1966.3 376.4 1962.7 377.9 1959.9 379 1952.7 380.3 1952 381.4 1953.4 382.9 1953 384.1 1946.9 385.4 1952.7 386.9 1957.7 388.6 1959.1 390.3 1958.4 391.7 1961.3 392.9 1964.9 394 1966.3 396.4 1969.1 399.3 1972.7 402.1 1975.6 403.6 1977.2 405 1975.6 407.1 1972 410 1967 412.1 1962.7 413.6 1957 414.6 1947 415.1 1911.3 416.2 1886.1 417.6 1961.4 419.1 1935.7 421.2 1951.1 423.1 1937.1 424.3 1947 425.6 1965.7 427.1 1921.9 428.3 1934.1 429 1922.7 430 1953.6 431.2 1891.9 432.4 1942.7 433.6 1943.4 434.3 1939.9 435.4 1906.1 436.6 1925.6 437.4 1954.1 438.1 1971.3 439.3 1977.2 458.3 1977.2" stroke="#4169e1" stroke-width="2.9" stroke-linejoin="round" stroke-linecap="butt" fill="none" clip-path="url(#c6_0)"/>
<rect x="109.5" y="1800.5" width="404" height="178" fill="none" stroke="#cccccc" stroke-width="2.78"/>
<text x="110.35" y="1783.99" font-size="20.61" textLength="190.11" lengthAdjust="spacingAndGlyphs">CrSi2(C40)(x=0.33)</text>
<text x="108.98" y="2012.52" font-size="17.8" textLength="32.3" lengthAdjust="spacingAndGlyphs">−10</text>
<text x="191.81" y="2012.52" font-size="17.8" textLength="21.9" lengthAdjust="spacingAndGlyphs">−5</text>
<text x="275.92" y="2012.52" font-size="17.8" textLength="9.05" lengthAdjust="spacingAndGlyphs">0</text>
<text x="353.89" y="2012.52" font-size="17.8" textLength="8.53" lengthAdjust="spacingAndGlyphs">5</text>
<text x="426.44" y="2012.52" font-size="17.8" textLength="19.2" lengthAdjust="spacingAndGlyphs">10</text>
<text x="504.23" y="2012.52" font-size="17.8" textLength="18.88" lengthAdjust="spacingAndGlyphs">15</text>
<text x="60.47" y="1983.27" font-size="17.8" textLength="24.34" lengthAdjust="spacingAndGlyphs">0.0</text>
<text x="60.46" y="1935.77" font-size="17.8" textLength="24.04" lengthAdjust="spacingAndGlyphs">0.5</text>
<text x="60.52" y="1888.27" font-size="17.8" textLength="24.28" lengthAdjust="spacingAndGlyphs">1.0</text>
<text x="60.52" y="1840.77" font-size="17.8" textLength="23.98" lengthAdjust="spacingAndGlyphs">1.5</text>
<text x="24.17" y="1891.19" font-size="20.61" textLength="41.68" lengthAdjust="spacingAndGlyphs" transform="rotate(-90 44.95 1891.19)">DOS</text>
</g>
<g>
<path d="M648 1978.52V1800.66M726 1978.52V1800.66M804 1978.52V1800.66M882 1978.52V1800.66M959 1978.52V1800.66M1037 1978.52V1800.66M633.29 1977H1037.29M633.29 1930H1037.29M633.29 1882H1037.29M633.29 1835H1037.29" stroke="#cccccc" stroke-width="2.22" stroke-dasharray="8.22 3.56" fill="none"/>
<path d="M772 1977.2 784.6 1977.2 786.7 1974.1 788.6 1969.9 789.1 1925.6 789.7 1902.3 790.7 1925.6 791.8 1943.1 793 1924.7 794.3 1939.9 795.3 1948.4 796.7 1951.3 797.7 1952 799 1946.9 800 1961.3 801 1965.6 802.4 1967.7 803.9 1969.1 805.3 1969.6 806.6 1967 807.6 1943.7 809.3 1961.7 810.6 1947 811.8 1931.9 812.9 1939.9 813.9 1961.4 814.9 1939.9 816 1931.4 817.4 1938.4 818.9 1956 820.6 1945.6 821.4 1953.4 822.3 1943.9 823.9 1943.4 825.3 1943.9 826.4 1958.3 827.4 1939.9 828.6 1932.6 829.7 1939.9 831.4 1948.3 832.9 1939.9 833.6 1911.3 834.4 1892.6 835.3 1905.6 836.4 1923.1 837.6 1895.1 838.9 1935.7 839.7 1925.6 840.6 1921.3 841.4 1900 842.6 1931.1 843.9 1863.3 844.9 1911.3 845.9 1956.9 847.3 1919.7 848.9 1945.4 850 1919.6 850.6 1897 851.4 1884.3 852.3 1897 852.9 1919.1 853.4 1888.4 854.1 1888.1 854.9 1891.3 855.7 1895.6 856.6 1905.6 857.1 1918.4 858 1908.4 859.3 1933.1 860.7 1908 861.7 1917 862.3 1909.1 863.1 1908.7 863.9 1909.9 864.6 1925.6 866.1 1931.4 867.4 1912.7 868.1 1911.3 868.9 1912 869.1 1939.9 870 1954.1 871 1965.6 872 1974.1 873.1 1977.2 887.1 1977.2 889.1 1972.7 891.4 1967.7 892.9 1962.7 893.9 1954.1 894.9 1942.7 895.4 1925.6 895.7 1882.7 896.4 1842.9 897.9 1895 898.9 1839.9 899.6 1814 900.3 1854.1 900.9 1908.4 901.7 1918.4 902.4 1922.7 903.3 1908.6 904.6 1953.6 905.7 1915.7 906.7 1939.9 907.4 1968.4 907.9 1977.2 920.3 1977.2" stroke="#4169e1" stroke-width="2.9" stroke-linejoin="round" stroke-linecap="butt" fill="none" clip-path="url(#c6_1)"/>
<rect x="633.5" y="1800.5" width="404" height="178" fill="none" stroke="#cccccc" stroke-width="2.78"/>
<text x="634.09" y="1783.99" font-size="20.61" textLength="190.11" lengthAdjust="spacingAndGlyphs">CrSi2(C40)(x=0.67)</text>
<text x="632.72" y="2012.52" font-size="17.8" textLength="32.3" lengthAdjust="spacingAndGlyphs">−10</text>
<text x="715.55" y="2012.52" font-size="17.8" textLength="21.9" lengthAdjust="spacingAndGlyphs">−5</text>
<text x="799.66" y="2012.52" font-size="17.8" textLength="9.05" lengthAdjust="spacingAndGlyphs">0</text>
<text x="877.63" y="2012.52" font-size="17.8" textLength="8.53" lengthAdjust="spacingAndGlyphs">5</text>
<text x="950.18" y="2012.52" font-size="17.8" textLength="19.2" lengthAdjust="spacingAndGlyphs">10</text>
<text x="1027.97" y="2012.52" font-size="17.8" textLength="18.88" lengthAdjust="spacingAndGlyphs">15</text>
<text x="584.21" y="1983.27" font-size="17.8" textLength="24.34" lengthAdjust="spacingAndGlyphs">0.0</text>
<text x="584.2" y="1935.77" font-size="17.8" textLength="24.04" lengthAdjust="spacingAndGlyphs">0.5</text>
<text x="584.26" y="1888.27" font-size="17.8" textLength="24.28" lengthAdjust="spacingAndGlyphs">1.0</text>
<text x="584.26" y="1840.77" font-size="17.8" textLength="23.98" lengthAdjust="spacingAndGlyphs">1.5</text>
<text x="547.91" y="1891.19" font-size="20.61" textLength="41.68" lengthAdjust="spacingAndGlyphs" transform="rotate(-90 568.69 1891.19)">DOS</text>
</g>
<g>
<path d="M1172 1978.52V1800.66M1250 1978.52V1800.66M1328 1978.52V1800.66M1405 1978.52V1800.66M1483 1978.52V1800.66M1561 1978.52V1800.66M1157.03 1977H1561.03M1157.03 1930H1561.03M1157.03 1882H1561.03M1157.03 1835H1561.03" stroke="#cccccc" stroke-width="2.22" stroke-dasharray="8.22 3.56" fill="none"/>
<path d="M1314.7 1977.2 1330 1976.7 1334.3 1975.6 1337.9 1973.4 1341.1 1969.9 1344 1964.9 1346 1958.4 1347.4 1951.3 1348.6 1942.7 1349 1911.3 1349.6 1885.4 1350.6 1897 1351.1 1879.9 1351.7 1878.4 1352.4 1879.1 1352.9 1911.3 1354.1 1926.4 1355.4 1917 1356.3 1916.3 1357.1 1918.4 1358 1925.6 1359.3 1931.3 1360.7 1936.3 1362.1 1938.7 1363.6 1939.1 1365.4 1935.6 1366.6 1928.4 1367.7 1922.7 1368.3 1897 1369.4 1866.9 1370.6 1882.7 1371.1 1925.6 1371.7 1954.1 1372.9 1968.4 1374 1977.2 1383.1 1977.2 1384.3 1965.6 1385.7 1947 1386.9 1929.9 1387.4 1907 1388.3 1906.3 1389.1 1902.7 1389.7 1910.6 1390.6 1898.4 1391.4 1897 1392 1897.7 1392.6 1939.9 1393.5 1972.1 1394.6 1939.9 1395.4 1918.4 1396.6 1907 1397.4 1895.6 1398.6 1888.6 1399.7 1911.3 1400.3 1925.6 1401.1 1929.9 1401.9 1947 1402.9 1973.6 1404 1967 1405.4 1964.1 1406.4 1963 1407.9 1965.6 1409.7 1964.9 1411.7 1962.7 1413 1958 1414.3 1962.7 1415.1 1966.3 1416.1 1963.4 1417.4 1965.6 1419.3 1966.3 1421.4 1964.9 1423.1 1962.7 1424.3 1960.6 1426 1959.9 1427.4 1958.4 1428.6 1954.9 1430 1951.3 1431.4 1948.7 1432.6 1948.4 1433.4 1954.1 1434.3 1920.9 1435.6 1947.1 1436.7 1866.6 1437.7 1882.7 1438.3 1925.6 1439.1 1944.1 1440 1951.3 1440.9 1959.1 1442 1960.1 1442.9 1959.1 1443.7 1951.3 1444.6 1947 1445.4 1949.6 1446.1 1949.9 1446.7 1925.6 1447.4 1907 1448.3 1905.9 1449 1906.7 1449.4 1915.6 1450.3 1915.3 1451.1 1918.4 1451.9 1932.7 1452.6 1947 1453.6 1953.6 1454.6 1939.9 1455.5 1930.9 1456.4 1954.1 1457.4 1968.4 1458.3 1977.2 1463.1 1977.2 1465 1972 1466.4 1965.6 1467.6 1963.4 1468.9 1963.9 1470.7 1965.6 1472.9 1967.3 1474.3 1967.7 1475 1966.3 1476.4 1967 1479.3 1967.3 1482.1 1966.3 1485 1964.9 1487.1 1963.9 1488.9 1962 1490.3 1961.3 1491 1951.3 1491.7 1942.9 1492.6 1954.1 1493.1 1959.9 1495 1962.7 1497.1 1963.4 1499.3 1964.9 1501.4 1966.3 1503.1 1966.3 1504 1968.4 1505 1974.1 1506 1977.2 1523.3 1977.2" stroke="#4169e1" stroke-width="2.9" stroke-linejoin="round" stroke-linecap="butt" fill="none" clip-path="url(#c6_2)"/>
<rect x="1157.5" y="1800.5" width="404" height="178" fill="none" stroke="#cccccc" stroke-width="2.78"/>
<text x="1157.84" y="1783.99" font-size="20.61" textLength="201.32" lengthAdjust="spacingAndGlyphs">Cu2Sb(C38)(x=0.33)</text>
<text x="1156.46" y="2012.52" font-size="17.8" textLength="32.3" lengthAdjust="spacingAndGlyphs">−10</text>
<text x="1239.29" y="2012.52" font-size="17.8" textLength="21.9" lengthAdjust="spacingAndGlyphs">−5</text>
<text x="1323.4" y="2012.52" font-size="17.8" textLength="9.05" lengthAdjust="spacingAndGlyphs">0</text>
<text x="1401.37" y="2012.52" font-size="17.8" textLength="8.53" lengthAdjust="spacingAndGlyphs">5</text>
<text x="1473.92" y="2012.52" font-size="17.8" textLength="19.2" lengthAdjust="spacingAndGlyphs">10</text>
<text x="1551.71" y="2012.52" font-size="17.8" textLength="18.88" lengthAdjust="spacingAndGlyphs">15</text>
<text x="1107.95" y="1983.27" font-size="17.8" textLength="24.34" lengthAdjust="spacingAndGlyphs">0.0</text>
<text x="1107.94" y="1935.77" font-size="17.8" textLength="24.04" lengthAdjust="spacingAndGlyphs">0.5</text>
<text x="1108" y="1888.27" font-size="17.8" textLength="24.28" lengthAdjust="spacingAndGlyphs">1.0</text>
<text x="1108" y="1840.77" font-size="17.8" textLength="23.98" lengthAdjust="spacingAndGlyphs">1.5</text>
<text x="1071.65" y="1891.19" font-size="20.61" textLength="41.68" lengthAdjust="spacingAndGlyphs" transform="rotate(-90 1092.43 1891.19)">DOS</text>
</g>
<g>
<path d="M125 2258.84V2080.98M202 2258.84V2080.98M280 2258.84V2080.98M358 2258.84V2080.98M436 2258.84V2080.98M513 2258.84V2080.98M109.55 2257H513.55M109.55 2210H513.55M109.55 2162H513.55M109.55 2115H513.55" stroke="#cccccc" stroke-width="2.22" stroke-dasharray="8.22 3.56" fill="none"/>
<path d="M250.3 2257.5 266.3 2257.5 267.4 2245.6 268.4 2237 269.4 2232 270.6 2228.7 271.3 2229.1 272 2233.4 273.4 2236.3 274.9 2239.9 276.6 2242.7 278.4 2244.1 280.3 2243.9 282.3 2243 284.1 2242.4 285.6 2239.9 286.3 2227 287.1 2208.4 288 2205.6 289.4 2203.4 290.3 2191.3 291.3 2175.7 292.4 2185.6 293.6 2157.6 295.1 2177 296 2198.4 297 2220 298.3 2212.7 298.9 2191.3 299.9 2173.3 301 2180.6 301.6 2162.7 302.4 2150.9 303.7 2162.7 304.7 2200.7 306.1 2160.9 307.4 2177 308.3 2194.1 309.1 2205.6 310 2210.6 311 2216 312.7 2210.4 314 2218.4 315.1 2225.6 316.3 2232 317.4 2234.1 318.6 2243.1 320.3 2238.4 321.7 2237.7 322.3 2227 323.1 2222.7 324 2205.6 324.6 2201.1 325.4 2238.9 326.3 2228.4 327.4 2226.3 328.3 2222.7 329.1 2221.3 329.9 2222.7 331 2236 332 2219.9 333.1 2215.1 334.3 2222.7 335.4 2230.6 337 2234.9 339.1 2237.7 341.3 2241 343.4 2244.1 344.9 2244.4 345.6 2239.9 346.3 2234.1 347.4 2233.9 348.6 2230.6 349.4 2225.6 350 2212.7 350.6 2177 351.4 2140 352.6 2196.4 353.7 2154.3 355 2188.9 356.3 2168 357.3 2191.3 358.4 2205.6 359.9 2217.7 361.3 2224.1 362.3 2228.4 363.1 2238.4 364 2248.4 364.9 2257.5 413.1 2257.5 413.7 2191.3 414.3 2134.1 415 2109.4 416 2162.7 416.6 2193.4 417.1 2193 417.7 2212.7 418.9 2221.3 419.9 2227 420.6 2241.3 421.3 2257.5 437.7 2257.5" stroke="#4169e1" stroke-width="2.9" stroke-linejoin="round" stroke-linecap="butt" fill="none" clip-path="url(#c7_0)"/>
<rect x="109.5" y="2080.5" width="404" height="178" fill="none" stroke="#cccccc" stroke-width="2.78"/>
<text x="110.36" y="2064.31" font-size="20.61" textLength="201.32" lengthAdjust="spacingAndGlyphs">Cu2Sb(C38)(x=0.67)</text>
<text x="108.98" y="2292.84" font-size="17.8" textLength="32.3" lengthAdjust="spacingAndGlyphs">−10</text>
<text x="191.81" y="2292.84" font-size="17.8" textLength="21.9" lengthAdjust="spacingAndGlyphs">−5</text>
<text x="275.92" y="2292.84" font-size="17.8" textLength="9.05" lengthAdjust="spacingAndGlyphs">0</text>
<text x="353.89" y="2292.84" font-size="17.8" textLength="8.53" lengthAdjust="spacingAndGlyphs">5</text>
<text x="426.44" y="2292.84" font-size="17.8" textLength="19.2" lengthAdjust="spacingAndGlyphs">10</text>
<text x="504.23" y="2292.84" font-size="17.8" textLength="18.88" lengthAdjust="spacingAndGlyphs">15</text>
<text x="60.47" y="2263.59" font-size="17.8" textLength="24.34" lengthAdjust="spacingAndGlyphs">0.0</text>
<text x="60.46" y="2216.09" font-size="17.8" textLength="24.04" lengthAdjust="spacingAndGlyphs">0.5</text>
<text x="60.52" y="2168.59" font-size="17.8" textLength="24.28" lengthAdjust="spacingAndGlyphs">1.0</text>
<text x="60.52" y="2121.09" font-size="17.8" textLength="23.98" lengthAdjust="spacingAndGlyphs">1.5</text>
<text x="24.17" y="2171.51" font-size="20.61" textLength="41.68" lengthAdjust="spacingAndGlyphs" transform="rotate(-90 44.95 2171.51)">DOS</text>
</g>
<g>
<path d="M648 2258.84V2080.98M726 2258.84V2080.98M804 2258.84V2080.98M882 2258.84V2080.98M959 2258.84V2080.98M1037 2258.84V2080.98M633.29 2257H1037.29M633.29 2210H1037.29M633.29 2162H1037.29M633.29 2115H1037.29" stroke="#cccccc" stroke-width="2.22" stroke-dasharray="8.22 3.56" fill="none"/>
<path d="M773.6 2257.5 776 2257.3 790.3 2256.3 797.4 2255.9 802.4 2255.6 804.6 2254.9 806.7 2252.7 808.9 2249.1 810.3 2244.1 811.4 2238.4 812.6 2232.7 814 2227 814.9 2219.9 815.6 2212 816.7 2207.7 817.7 2206.3 818.6 2208.4 820.1 2202.9 821.6 2209.3 822.9 2197 824 2191.3 825 2186.3 826 2184.1 826.7 2177 827.6 2166.1 828.9 2182.7 829.7 2196.3 830.6 2199.9 831.7 2200.1 832.3 2224.1 833.1 2228.4 834.3 2244.1 835.7 2247.7 836.9 2244.9 838 2239.9 839.6 2239.1 841 2238.4 842 2232.7 843.1 2226.3 844.3 2225.6 845.3 2223.4 846.7 2223 847.7 2214.1 848.6 2208.4 850.1 2202.6 851.1 2219.9 852.1 2236 853.4 2232 854.3 2231.3 855.2 2218 856.3 2225.6 857.4 2232.7 858.4 2234.9 859.6 2231.3 860.6 2222.7 861.4 2218.4 862.3 2219.9 863.4 2224.1 864.9 2228.4 865.7 2230.6 866.4 2237 867.4 2236.7 868.6 2234.1 869.6 2235.6 870.6 2231.3 871.4 2231 872.4 2234.1 873.1 2228.4 874.3 2218.3 875.9 2227.1 877.1 2219.9 878.5 2203.3 879.9 2208.4 880.7 2211.3 881.4 2224.9 882.4 2226.3 883.4 2229.1 884.3 2229.6 885 2219.9 886.1 2198.3 887.3 2205.6 888.2 2226 889.4 2216.3 890.3 2217.7 891.4 2214.1 892.4 2213.4 893.4 2213 894.6 2215.6 895.7 2222.7 896.7 2232 898.3 2239.7 900 2234.1 901 2233.4 901.7 2233 902.6 2237 903.6 2241.3 904.3 2242.4 905.3 2239.9 906.7 2234.9 908.1 2233 909.4 2229.9 910.3 2218.4 911.4 2218.7 912.9 2219.9 914.3 2222 915.7 2225.6 916.7 2234.1 917.4 2244.1 918.6 2247.3 920.3 2249.1 923.1 2250.6 926.7 2251 930.3 2251.3 933.9 2250.6 936.7 2249.6 938.1 2247 939.3 2245.6 940.3 2246.3 941.4 2249.9 942.9 2254.1 944.3 2257.5 948.1 2257.5 947.8 2257.5 948.9 2254.2 949.7 2238.6 950.5 2207.6 951.3 2176.5 951.8 2163.7 952.6 2163.5 953 2176.5 953.6 2199.8 954.1 2215.3 954.6 2223.1 955.5 2230.9 956.3 2237.1 957.1 2243.3 958 2244.7 959.3 2245 960.6 2244.1 961.9 2241.7 962.7 2238.6 963.1 2235.5 963.9 2234.4 964.8 2232.4 965.5 2231.7 966.4 2231.8 966.8 2238.6 967.3 2245.6 968.1 2248.7 968.9 2252.6 969.7 2257.5 988.1 2257.5" stroke="#4169e1" stroke-width="2.9" stroke-linejoin="round" stroke-linecap="butt" fill="none" clip-path="url(#c7_1)"/>
<rect x="633.5" y="2080.5" width="404" height="178" fill="none" stroke="#cccccc" stroke-width="2.78"/>
<text x="634.21" y="2064.31" font-size="20.61" textLength="205.39" lengthAdjust="spacingAndGlyphs">MgZn2(C14)(x=0.33)</text>
<text x="632.72" y="2292.84" font-size="17.8" textLength="32.3" lengthAdjust="spacingAndGlyphs">−10</text>
<text x="715.55" y="2292.84" font-size="17.8" textLength="21.9" lengthAdjust="spacingAndGlyphs">−5</text>
<text x="799.66" y="2292.84" font-size="17.8" textLength="9.05" lengthAdjust="spacingAndGlyphs">0</text>
<text x="877.63" y="2292.84" font-size="17.8" textLength="8.53" lengthAdjust="spacingAndGlyphs">5</text>
<text x="950.18" y="2292.84" font-size="17.8" textLength="19.2" lengthAdjust="spacingAndGlyphs">10</text>
<text x="1027.97" y="2292.84" font-size="17.8" textLength="18.88" lengthAdjust="spacingAndGlyphs">15</text>
<text x="584.21" y="2263.59" font-size="17.8" textLength="24.34" lengthAdjust="spacingAndGlyphs">0.0</text>
<text x="584.2" y="2216.09" font-size="17.8" textLength="24.04" lengthAdjust="spacingAndGlyphs">0.5</text>
<text x="584.26" y="2168.59" font-size="17.8" textLength="24.28" lengthAdjust="spacingAndGlyphs">1.0</text>
<text x="584.26" y="2121.09" font-size="17.8" textLength="23.98" lengthAdjust="spacingAndGlyphs">1.5</text>
<text x="547.91" y="2171.51" font-size="20.61" textLength="41.68" lengthAdjust="spacingAndGlyphs" transform="rotate(-90 568.69 2171.51)">DOS</text>
</g>
<g>
<path d="M1172 2258.84V2080.98M1250 2258.84V2080.98M1328 2258.84V2080.98M1405 2258.84V2080.98M1483 2258.84V2080.98M1561 2258.84V2080.98M1157.03 2257H1561.03M1157.03 2210H1561.03M1157.03 2162H1561.03M1157.03 2115H1561.03" stroke="#cccccc" stroke-width="2.22" stroke-dasharray="8.22 3.56" fill="none"/>
<path d="M1306.4 2257.5 1321.4 2257.5 1322.6 2253 1324.3 2253.9 1327.1 2253 1329.3 2250.6 1331.4 2245.6 1333.1 2237 1334.3 2227 1335.1 2217 1336 2216.3 1336.6 2219.9 1337.4 2219.1 1338.4 2201.1 1339.4 2210.6 1340.5 2181.9 1341.7 2211.3 1342.6 2212 1343.3 2213.4 1344 2177 1345.1 2167.6 1346.5 2219.3 1347.9 2146.9 1349 2219.9 1349.6 2191.3 1350.5 2225 1351.6 2170.9 1352.6 2203.4 1353.3 2177 1354 2191.3 1355.1 2173.7 1356.5 2198.9 1357.7 2164 1358.6 2199.1 1359.5 2161.4 1360.6 2177 1361.3 2206.4 1362.4 2162.9 1363.3 2196.3 1364 2196.7 1364.9 2201.7 1366.4 2163.3 1367.1 2201.3 1368.2 2226 1369.4 2176.1 1370.3 2208.4 1371.4 2186.6 1372.3 2199.9 1373.1 2194.9 1374 2197 1374.9 2197.3 1375.7 2212.7 1376.6 2224.1 1377.6 2246.9 1378.6 2219.9 1379.4 2191.3 1380.3 2148.4 1381.4 2103.7 1382.3 2162.7 1382.7 2219.9 1383.1 2257.5 1392.6 2257.5 1393.6 2248.4 1395 2234.1 1396.1 2219.9 1396.9 2198.4 1397.6 2186.9 1398.6 2205.6 1399.4 2227 1400.3 2241.3 1401.6 2250.7 1403.1 2241.3 1404.3 2231.3 1405.4 2219.9 1406.1 2207 1407.1 2206.3 1408 2207.7 1408.9 2219.9 1409.7 2231.3 1410.4 2245.9 1411.4 2246.3 1412.3 2243.4 1413.1 2243.9 1414.3 2246.3 1416.4 2248.1 1419.3 2249.1 1422.9 2249.6 1427.1 2249.9 1430.7 2249.6 1432.9 2249.1 1434.1 2239.7 1435.3 2248.4 1436 2257.5 1438.6 2257.5 1439.7 2248.4 1440.9 2243 1441.7 2242.7 1442.6 2246.3 1443.6 2247.3 1445 2246.7 1447.1 2244.9 1448.9 2242 1449.7 2234.1 1450.4 2233 1451.1 2233.4 1452.1 2238.4 1453.6 2242.7 1455 2244.9 1455.7 2234.1 1456.4 2212.7 1457.1 2192.7 1458 2192 1458.9 2195.6 1459.7 2202 1460.6 2202.7 1461.4 2206.3 1462 2205.6 1463 2195.7 1464.3 2205.6 1465.1 2227 1466 2239.9 1467.1 2247 1468.6 2252 1470 2257.5 1485 2257.5" stroke="#4169e1" stroke-width="2.9" stroke-linejoin="round" stroke-linecap="butt" fill="none" clip-path="url(#c7_2)"/>
<rect x="1157.5" y="2080.5" width="404" height="178" fill="none" stroke="#cccccc" stroke-width="2.78"/>
<text x="1157.95" y="2064.31" font-size="20.61" textLength="205.39" lengthAdjust="spacingAndGlyphs">MgZn2(C14)(x=0.67)</text>
<text x="1156.46" y="2292.84" font-size="17.8" textLength="32.3" lengthAdjust="spacingAndGlyphs">−10</text>
<text x="1239.29" y="2292.84" font-size="17.8" textLength="21.9" lengthAdjust="spacingAndGlyphs">−5</text>
<text x="1323.4" y="2292.84" font-size="17.8" textLength="9.05" lengthAdjust="spacingAndGlyphs">0</text>
<text x="1401.37" y="2292.84" font-size="17.8" textLength="8.53" lengthAdjust="spacingAndGlyphs">5</text>
<text x="1473.92" y="2292.84" font-size="17.8" textLength="19.2" lengthAdjust="spacingAndGlyphs">10</text>
<text x="1551.71" y="2292.84" font-size="17.8" textLength="18.88" lengthAdjust="spacingAndGlyphs">15</text>
<text x="1107.95" y="2263.59" font-size="17.8" textLength="24.34" lengthAdjust="spacingAndGlyphs">0.0</text>
<text x="1107.94" y="2216.09" font-size="17.8" textLength="24.04" lengthAdjust="spacingAndGlyphs">0.5</text>
<text x="1108" y="2168.59" font-size="17.8" textLength="24.28" lengthAdjust="spacingAndGlyphs">1.0</text>
<text x="1108" y="2121.09" font-size="17.8" textLength="23.98" lengthAdjust="spacingAndGlyphs">1.5</text>
<text x="1071.65" y="2171.51" font-size="20.61" textLength="41.68" lengthAdjust="spacingAndGlyphs" transform="rotate(-90 1092.43 2171.51)">DOS</text>
</g>
<g>
<path d="M125 2539.16V2361.3M202 2539.16V2361.3M280 2539.16V2361.3M358 2539.16V2361.3M436 2539.16V2361.3M513 2539.16V2361.3M109.55 2538H513.55M109.55 2490H513.55M109.55 2443H513.55M109.55 2395H513.55" stroke="#cccccc" stroke-width="2.22" stroke-dasharray="8.22 3.56" fill="none"/>
<path d="M236 2537.8 253.9 2537.8 256 2530.9 258.1 2524.4 259.6 2521.6 261 2521.1 263.1 2523 266 2525.9 268.1 2528 270 2529.1 271.4 2528.7 273.1 2530.9 276 2532 278.9 2532 281.7 2531.1 283.9 2529.4 285.3 2525.9 286.7 2519.4 287.7 2513.7 288.9 2513 290.3 2503.7 291.4 2493.7 292 2472.3 293 2468.1 294 2486.6 295.1 2517 296.6 2500.9 297.4 2486.6 298 2458 298.9 2442.9 299.9 2472.3 301.1 2507.9 302.6 2471 304 2492.1 305.3 2478.1 306.3 2493.7 307.1 2508 308.4 2519.6 309.7 2500.9 310.6 2496.4 311.7 2503.7 313.1 2507.3 314.6 2509.4 316.3 2510.6 317.4 2508 318.6 2502.4 319.7 2509.9 320.4 2486.6 321.4 2465 323.1 2489.9 324.3 2472.3 325.3 2452.1 326.3 2483.7 327.4 2455.3 328.4 2486.6 329.6 2501 331 2493.9 332.1 2500.1 333.1 2497.3 334.3 2495.9 335.1 2486.6 336 2472.3 337.1 2464.3 338.1 2486.6 338.9 2513.7 339.7 2514 340.6 2510.9 341.4 2510.6 342 2501.6 343.1 2501.1 343.9 2503.7 344.6 2500.9 346 2508.9 347.1 2472.3 348 2455.7 349.1 2486.6 350.5 2513.9 351.7 2500.9 352.9 2490 353.9 2508 354.9 2516.6 355.7 2529.4 356.3 2537.8 358.9 2537.8 359.1 2472.3 359.9 2433.6 360.7 2486.6 361.1 2526.9 364.6 2526.9 369.6 2526.9 371.4 2528.7 372.9 2529.4 378.9 2529.4 383.9 2529.4 386.7 2528 388.9 2527.3 394.6 2527.3 395.7 2522.3 396.3 2500.9 397.6 2460 399 2514.6 399.9 2458 400.7 2429.6 401.7 2458 402.4 2479.4 403.1 2488 404 2488.3 404.6 2495.1 405.7 2502.3 407.9 2507.4 409.1 2443.7 410 2374.3 410.9 2443.7 411.3 2500.9 411.7 2518 412.9 2525.1 414.6 2530.1 416.7 2534 418.9 2537.8 436 2537.8" stroke="#4169e1" stroke-width="2.9" stroke-linejoin="round" stroke-linecap="butt" fill="none" clip-path="url(#c8_0)"/>
<rect x="109.5" y="2361.5" width="404" height="178" fill="none" stroke="#cccccc" stroke-width="2.78"/>
<text x="110.65" y="2344.63" font-size="20.61" textLength="195.76" lengthAdjust="spacingAndGlyphs">Si2U3(D5a)(x=0.40)</text>
<text x="108.98" y="2573.16" font-size="17.8" textLength="32.3" lengthAdjust="spacingAndGlyphs">−10</text>
<text x="191.81" y="2573.16" font-size="17.8" textLength="21.9" lengthAdjust="spacingAndGlyphs">−5</text>
<text x="275.92" y="2573.16" font-size="17.8" textLength="9.05" lengthAdjust="spacingAndGlyphs">0</text>
<text x="353.89" y="2573.16" font-size="17.8" textLength="8.53" lengthAdjust="spacingAndGlyphs">5</text>
<text x="426.44" y="2573.16" font-size="17.8" textLength="19.2" lengthAdjust="spacingAndGlyphs">10</text>
<text x="504.23" y="2573.16" font-size="17.8" textLength="18.88" lengthAdjust="spacingAndGlyphs">15</text>
<text x="60.47" y="2543.91" font-size="17.8" textLength="24.34" lengthAdjust="spacingAndGlyphs">0.0</text>
<text x="60.46" y="2496.41" font-size="17.8" textLength="24.04" lengthAdjust="spacingAndGlyphs">0.5</text>
<text x="60.52" y="2448.91" font-size="17.8" textLength="24.28" lengthAdjust="spacingAndGlyphs">1.0</text>
<text x="60.52" y="2401.41" font-size="17.8" textLength="23.98" lengthAdjust="spacingAndGlyphs">1.5</text>
<text x="24.17" y="2451.83" font-size="20.61" textLength="41.68" lengthAdjust="spacingAndGlyphs" transform="rotate(-90 44.95 2451.83)">DOS</text>
</g>
<g>
<path d="M648 2539.16V2361.3M726 2539.16V2361.3M804 2539.16V2361.3M882 2539.16V2361.3M959 2539.16V2361.3M1037 2539.16V2361.3M633.29 2538H1037.29M633.29 2490H1037.29M633.29 2443H1037.29M633.29 2395H1037.29" stroke="#cccccc" stroke-width="2.22" stroke-dasharray="8.22 3.56" fill="none"/>
<path d="M767.1 2537.8 782.4 2537.8 784.3 2534.4 785.7 2529.4 786.7 2515.1 787.1 2486.6 788.1 2456.7 789.1 2479.4 790.1 2464.7 791 2486.6 791.7 2500.9 792.6 2516.6 793.9 2518.7 795.3 2519.1 796.7 2516.9 797.7 2518.7 798.9 2521.6 800.6 2524.4 802.4 2524.9 804.3 2524 806 2524.4 807.1 2520.9 808.1 2520.1 809.9 2524.1 811.4 2519.4 812.6 2518 813.1 2510.9 814.3 2510.1 814.9 2505.9 816.1 2512.4 817.6 2500.4 819 2511.7 820 2496.6 821 2490.9 821.7 2479.4 822.3 2464.4 823.1 2463.7 823.7 2466.6 824.3 2429.4 825.4 2398.1 826.6 2408 827.1 2429.4 828 2443.7 829 2479.6 830.4 2419.6 831.1 2458 831.7 2472.3 832.6 2453.3 833.9 2515.6 834.9 2486.6 836.1 2481 837.4 2489.4 838.6 2500.9 839.6 2507.3 840.6 2507.7 841.4 2522.3 842.7 2532.7 844 2522.1 845.3 2531.3 846.7 2523.7 848.1 2515.1 849.1 2506.6 850 2499.4 851 2498.7 851.7 2499.1 852.9 2508 854 2518 855.3 2526.6 856.7 2531.6 858.6 2535.1 860.3 2537.8 887.7 2537.8 888.3 2500.9 889 2479.3 890 2500.9 890.9 2500.1 892 2503.7 893.1 2506.3 894.9 2507.3 896.7 2508.7 897.4 2500.9 898.7 2495.3 899.7 2515.1 900.3 2526.6 901.1 2525.1 902 2520.9 902.6 2486.6 903.1 2475.4 903.7 2475.1 904.7 2465.7 905.7 2472.3 906.7 2495 907.4 2435.9 908 2435.1 908.6 2435.9 909.6 2410.7 910.6 2458 911.1 2486.6 912 2495.1 912.9 2497.3 913.7 2506.6 915 2511 916.3 2504.4 917.1 2508 918 2512.3 918.9 2508 919.9 2515 921 2500.9 921.7 2492.3 922.6 2488.1 923.6 2500.9 924.3 2512.3 925.3 2515.1 926.7 2517.7 928.1 2518 929.3 2517.7 930.3 2526.6 931.7 2528.7 933.9 2531.6 936 2534 938.1 2535.9 940.3 2537.8 954.9 2537.8" stroke="#4169e1" stroke-width="2.9" stroke-linejoin="round" stroke-linecap="butt" fill="none" clip-path="url(#c8_1)"/>
<rect x="633.5" y="2361.5" width="404" height="178" fill="none" stroke="#cccccc" stroke-width="2.78"/>
<text x="634.39" y="2344.63" font-size="20.61" textLength="195.76" lengthAdjust="spacingAndGlyphs">Si2U3(D5a)(x=0.60)</text>
<text x="632.72" y="2573.16" font-size="17.8" textLength="32.3" lengthAdjust="spacingAndGlyphs">−10</text>
<text x="715.55" y="2573.16" font-size="17.8" textLength="21.9" lengthAdjust="spacingAndGlyphs">−5</text>
<text x="799.66" y="2573.16" font-size="17.8" textLength="9.05" lengthAdjust="spacingAndGlyphs">0</text>
<text x="877.63" y="2573.16" font-size="17.8" textLength="8.53" lengthAdjust="spacingAndGlyphs">5</text>
<text x="950.18" y="2573.16" font-size="17.8" textLength="19.2" lengthAdjust="spacingAndGlyphs">10</text>
<text x="1027.97" y="2573.16" font-size="17.8" textLength="18.88" lengthAdjust="spacingAndGlyphs">15</text>
<text x="584.21" y="2543.91" font-size="17.8" textLength="24.34" lengthAdjust="spacingAndGlyphs">0.0</text>
<text x="584.2" y="2496.41" font-size="17.8" textLength="24.04" lengthAdjust="spacingAndGlyphs">0.5</text>
<text x="584.26" y="2448.91" font-size="17.8" textLength="24.28" lengthAdjust="spacingAndGlyphs">1.0</text>
<text x="584.26" y="2401.41" font-size="17.8" textLength="23.98" lengthAdjust="spacingAndGlyphs">1.5</text>
<text x="547.91" y="2451.83" font-size="20.61" textLength="41.68" lengthAdjust="spacingAndGlyphs" transform="rotate(-90 568.69 2451.83)">DOS</text>
</g>
<g>
<path d="M1172 2539.16V2361.3M1250 2539.16V2361.3M1328 2539.16V2361.3M1405 2539.16V2361.3M1483 2539.16V2361.3M1561 2539.16V2361.3M1157.03 2538H1561.03M1157.03 2490H1561.03M1157.03 2443H1561.03M1157.03 2395H1561.03" stroke="#cccccc" stroke-width="2.22" stroke-dasharray="8.22 3.56" fill="none"/>
<path d="M1290.6 2537.8 1304.3 2537.8 1307.1 2535.9 1311.4 2534 1315 2533 1316.9 2532.6 1317.9 2530.1 1320 2530.1 1323.1 2528.7 1324.6 2525.9 1326.4 2520.9 1328.3 2516.6 1329.7 2513.7 1330.9 2511.6 1331.7 2505.1 1332.6 2495.1 1333.3 2479.4 1333.7 2458 1334.5 2441.4 1335.4 2458 1336.6 2477.4 1338 2472.3 1338.9 2466.6 1339.6 2458 1340.5 2409 1341.4 2458 1342 2462.3 1342.6 2452.3 1343.1 2458 1343.7 2472.3 1344.6 2486.6 1345.4 2495.1 1346.6 2501.7 1347.9 2491.9 1348.9 2500.9 1350.1 2506.7 1351.4 2500.9 1352 2479.4 1352.6 2458 1353.3 2448.7 1354.3 2445.1 1355.4 2442.3 1356.7 2435.3 1357.7 2450.9 1358.6 2472.3 1359.4 2486.6 1360.3 2498.7 1361.1 2506.6 1362.1 2513.7 1363.6 2522.3 1365 2529.4 1366.4 2535.1 1367.1 2537.8 1389.7 2537.8 1390.9 2533.7 1392 2528 1393.1 2526.6 1394.3 2519.4 1395.1 2508 1395.7 2493.7 1396.5 2479.6 1397.4 2489.4 1398.3 2488 1399 2498.7 1399.7 2495.1 1400.7 2495.4 1401.7 2502.3 1402.9 2501.6 1403.7 2499.4 1404.3 2492.3 1405.1 2491.6 1406 2483.7 1406.9 2472.3 1407.7 2471.1 1408.6 2472.3 1409.3 2480.9 1410.7 2487.4 1411.7 2482.3 1412.9 2476.7 1414.5 2488.4 1416.1 2482.4 1417.4 2490.9 1418.6 2496.7 1419.7 2483.7 1420.6 2482.6 1421.4 2483.7 1422.1 2493.7 1423.1 2503.7 1424.3 2512.3 1425.1 2515.4 1426 2512.3 1426.9 2505.1 1427.9 2493.7 1428.9 2484.4 1430 2483.7 1431.1 2483.4 1432.1 2482.3 1433.1 2482 1434.3 2483.7 1435.1 2484.4 1436 2490.9 1437.1 2499.4 1438.3 2506.6 1439.7 2513 1441.4 2518 1443.6 2523 1445.7 2527.3 1447.9 2531.6 1449.7 2535.1 1450.7 2537.8 1464.6 2537.8" stroke="#4169e1" stroke-width="2.9" stroke-linejoin="round" stroke-linecap="butt" fill="none" clip-path="url(#c8_2)"/>
<rect x="1157.5" y="2361.5" width="404" height="178" fill="none" stroke="#cccccc" stroke-width="2.78"/>
<text x="1157.96" y="2344.63" font-size="20.61" textLength="187.09" lengthAdjust="spacingAndGlyphs">AuCu(L10)(x=0.50)</text>
<text x="1156.46" y="2573.16" font-size="17.8" textLength="32.3" lengthAdjust="spacingAndGlyphs">−10</text>
<text x="1239.29" y="2573.16" font-size="17.8" textLength="21.9" lengthAdjust="spacingAndGlyphs">−5</text>
<text x="1323.4" y="2573.16" font-size="17.8" textLength="9.05" lengthAdjust="spacingAndGlyphs">0</text>
<text x="1401.37" y="2573.16" font-size="17.8" textLength="8.53" lengthAdjust="spacingAndGlyphs">5</text>
<text x="1473.92" y="2573.16" font-size="17.8" textLength="19.2" lengthAdjust="spacingAndGlyphs">10</text>
<text x="1551.71" y="2573.16" font-size="17.8" textLength="18.88" lengthAdjust="spacingAndGlyphs">15</text>
<text x="1107.95" y="2543.91" font-size="17.8" textLength="24.34" lengthAdjust="spacingAndGlyphs">0.0</text>
<text x="1107.94" y="2496.41" font-size="17.8" textLength="24.04" lengthAdjust="spacingAndGlyphs">0.5</text>
<text x="1108" y="2448.91" font-size="17.8" textLength="24.28" lengthAdjust="spacingAndGlyphs">1.0</text>
<text x="1108" y="2401.41" font-size="17.8" textLength="23.98" lengthAdjust="spacingAndGlyphs">1.5</text>
<text x="1071.65" y="2451.83" font-size="20.61" textLength="41.68" lengthAdjust="spacingAndGlyphs" transform="rotate(-90 1092.43 2451.83)">DOS</text>
</g>
<g>
<path d="M125 2819.48V2641.62M202 2819.48V2641.62M280 2819.48V2641.62M358 2819.48V2641.62M436 2819.48V2641.62M513 2819.48V2641.62M109.55 2818H513.55M109.55 2771H513.55M109.55 2723H513.55M109.55 2676H513.55" stroke="#cccccc" stroke-width="2.22" stroke-dasharray="8.22 3.56" fill="none"/>
<path d="M246.4 2818.1 261.4 2818.1 263.1 2813 265.4 2809.4 267.9 2807.3 270 2804.9 271.7 2804.4 273.1 2801.6 274.6 2800.1 275.7 2797.7 276.6 2798.7 277.4 2803.4 278.3 2800.1 279.3 2803.7 280.7 2804.4 281.7 2803 282.6 2798 283.6 2790.9 284.6 2783.7 285.1 2773.7 286 2761.4 287.1 2767.3 288.3 2760 289.9 2771.3 291.3 2766.4 292.4 2778.7 293.5 2783.9 294.6 2773.7 295.9 2763.6 296.9 2780.9 297.6 2789.4 298.3 2793 298.9 2780.9 299.7 2745.7 300.9 2752.3 301.4 2778 302.4 2788.9 303.6 2780.9 304.3 2762.3 305 2738 305.9 2718.1 307.1 2738 308.3 2775 309.1 2738 310 2710.4 311.6 2728.4 312.8 2711 313.7 2752.3 314.3 2773.7 315 2788 316 2799.4 317.4 2806.6 318.9 2812.3 320.3 2818.1 341.4 2818.1 343.1 2814.4 345 2808.7 346.4 2802.3 347.4 2793.7 348.3 2778 348.9 2752.3 349.7 2710 350.7 2726.6 351.4 2735.1 352.3 2743.7 353.1 2748 354 2756.6 355 2760.9 356 2763.7 356.9 2767.3 357.4 2764.4 358.3 2766.6 359.1 2773.7 360 2783.7 361.3 2794.6 362.6 2786.6 363.7 2779 364.9 2786.6 365.7 2790.9 366.6 2795.1 367.9 2797.3 369.3 2796.3 370.3 2797.3 370.9 2809.4 371.4 2818.1 373.4 2818.1 373.9 2780.9 374.3 2762.6 375 2760.9 375.7 2758 376.4 2755.1 377.1 2755.9 377.7 2765.1 378.9 2764.4 379.7 2763.7 380.3 2738 381 2723.9 381.9 2752.3 382.6 2766.6 383.4 2774.9 384.6 2770 385.6 2801.3 386.6 2773.7 387.9 2763.6 389.1 2769.4 390 2773.7 390.9 2783.7 392 2788 393.1 2790.1 394 2799.4 395.7 2800.1 396.9 2802.3 398.3 2805.1 400 2807.3 402.1 2810.1 404.3 2813 406 2815.9 407.1 2818.1 421.1 2818.1" stroke="#4169e1" stroke-width="2.9" stroke-linejoin="round" stroke-linecap="butt" fill="none" clip-path="url(#c9_0)"/>
<rect x="109.5" y="2641.5" width="404" height="178" fill="none" stroke="#cccccc" stroke-width="2.78"/>
<text x="110.36" y="2624.95" font-size="20.61" textLength="165.16" lengthAdjust="spacingAndGlyphs">CoU(Ba)(x=0.50)</text>
<text x="108.98" y="2853.48" font-size="17.8" textLength="32.3" lengthAdjust="spacingAndGlyphs">−10</text>
<text x="191.81" y="2853.48" font-size="17.8" textLength="21.9" lengthAdjust="spacingAndGlyphs">−5</text>
<text x="275.92" y="2853.48" font-size="17.8" textLength="9.05" lengthAdjust="spacingAndGlyphs">0</text>
<text x="353.89" y="2853.48" font-size="17.8" textLength="8.53" lengthAdjust="spacingAndGlyphs">5</text>
<text x="426.44" y="2853.48" font-size="17.8" textLength="19.2" lengthAdjust="spacingAndGlyphs">10</text>
<text x="504.23" y="2853.48" font-size="17.8" textLength="18.88" lengthAdjust="spacingAndGlyphs">15</text>
<text x="60.47" y="2824.23" font-size="17.8" textLength="24.34" lengthAdjust="spacingAndGlyphs">0.0</text>
<text x="60.46" y="2776.73" font-size="17.8" textLength="24.04" lengthAdjust="spacingAndGlyphs">0.5</text>
<text x="60.52" y="2729.23" font-size="17.8" textLength="24.28" lengthAdjust="spacingAndGlyphs">1.0</text>
<text x="60.52" y="2681.73" font-size="17.8" textLength="23.98" lengthAdjust="spacingAndGlyphs">1.5</text>
<text x="24.17" y="2732.15" font-size="20.61" textLength="41.68" lengthAdjust="spacingAndGlyphs" transform="rotate(-90 44.95 2732.15)">DOS</text>
</g>
<g>
<path d="M648 2819.48V2641.62M726 2819.48V2641.62M804 2819.48V2641.62M882 2819.48V2641.62M959 2819.48V2641.62M1037 2819.48V2641.62M633.29 2818H1037.29M633.29 2771H1037.29M633.29 2723H1037.29M633.29 2676H1037.29" stroke="#cccccc" stroke-width="2.22" stroke-dasharray="8.22 3.56" fill="none"/>
<path d="M772 2818.1 786 2818.1 788.1 2813.7 790 2808.7 792 2806.6 793.7 2803.7 794.6 2795.1 796 2788 797.4 2782.3 798.6 2779.4 799.5 2773.9 800.3 2786.6 801 2788 802.4 2787.3 804.6 2785.1 806.7 2783.7 808.1 2782.3 809.1 2775.1 810 2763.7 810.6 2738 811.4 2724.3 812.4 2729.4 813.4 2727.7 814 2745.1 814.6 2759.4 815.9 2767.4 817.4 2762.3 818.6 2760.1 820 2759.4 821.1 2758 822.1 2751.9 823.1 2766.6 824.3 2782.7 825.6 2766.6 826.3 2745.1 827 2723.7 828 2691.9 829.1 2709.4 829.7 2735.9 830.6 2736.3 831.1 2733 831.7 2732.6 832.1 2766.6 832.9 2788 833.9 2800.9 835.3 2808 837.1 2813.7 837.7 2818.1 868.6 2818.1 870.3 2814.4 872.4 2809.4 873.9 2795.1 875.3 2780.9 876 2766.6 876.6 2723.7 877.4 2686.1 878.3 2716.6 879.1 2738 880 2749.4 881 2753.7 882 2759.4 882.9 2767.3 884.3 2769.4 886 2772.3 887.7 2773.7 888.9 2773 889.7 2772.3 890.6 2773.7 892 2775.4 893.1 2774.9 894 2769.4 894.9 2766.6 895.7 2765.9 896.6 2768.7 897.1 2769.1 898.1 2752.9 899.1 2761.6 900.3 2761.1 901.4 2763.7 902.4 2769.4 903.4 2770.9 904.6 2761 905.7 2768 906.6 2766.6 907.4 2765.9 908.6 2769.4 909.6 2779.4 910.6 2788 911.4 2792.3 913.1 2796.6 914.6 2800.1 915.7 2803 917.4 2805.1 919.6 2808.7 921.7 2811.6 923.9 2814.4 926 2818.1 941 2818.1" stroke="#4169e1" stroke-width="2.9" stroke-linejoin="round" stroke-linecap="butt" fill="none" clip-path="url(#c9_1)"/>
<rect x="633.5" y="2641.5" width="404" height="178" fill="none" stroke="#cccccc" stroke-width="2.78"/>
<text x="634.1" y="2624.95" font-size="20.61" textLength="168.58" lengthAdjust="spacingAndGlyphs">CsCl(B2)(x=0.50)</text>
<text x="632.72" y="2853.48" font-size="17.8" textLength="32.3" lengthAdjust="spacingAndGlyphs">−10</text>
<text x="715.55" y="2853.48" font-size="17.8" textLength="21.9" lengthAdjust="spacingAndGlyphs">−5</text>
<text x="799.66" y="2853.48" font-size="17.8" textLength="9.05" lengthAdjust="spacingAndGlyphs">0</text>
<text x="877.63" y="2853.48" font-size="17.8" textLength="8.53" lengthAdjust="spacingAndGlyphs">5</text>
<text x="950.18" y="2853.48" font-size="17.8" textLength="19.2" lengthAdjust="spacingAndGlyphs">10</text>
<text x="1027.97" y="2853.48" font-size="17.8" textLength="18.88" lengthAdjust="spacingAndGlyphs">15</text>
<text x="584.21" y="2824.23" font-size="17.8" textLength="24.34" lengthAdjust="spacingAndGlyphs">0.0</text>
<text x="584.2" y="2776.73" font-size="17.8" textLength="24.04" lengthAdjust="spacingAndGlyphs">0.5</text>
<text x="584.26" y="2729.23" font-size="17.8" textLength="24.28" lengthAdjust="spacingAndGlyphs">1.0</text>
<text x="584.26" y="2681.73" font-size="17.8" textLength="23.98" lengthAdjust="spacingAndGlyphs">1.5</text>
<text x="547.91" y="2732.15" font-size="20.61" textLength="41.68" lengthAdjust="spacingAndGlyphs" transform="rotate(-90 568.69 2732.15)">DOS</text>
</g>
<g>
<path d="M1172 2819.48V2641.62M1250 2819.48V2641.62M1328 2819.48V2641.62M1405 2819.48V2641.62M1483 2819.48V2641.62M1561 2819.48V2641.62M1157.03 2818H1561.03M1157.03 2771H1561.03M1157.03 2723H1561.03M1157.03 2676H1561.03" stroke="#cccccc" stroke-width="2.22" stroke-dasharray="8.22 3.56" fill="none"/>
<path d="M1189.3 2818.1 1217.1 2818.1 1221.4 2816.6 1227.1 2815.1 1231.4 2814 1235.4 2812.6 1237.9 2810.6 1240.3 2808.7 1242.1 2805.9 1244 2802.3 1245.4 2799.4 1247.1 2797.3 1248.9 2794.9 1250.7 2795.1 1252.9 2795.4 1255.4 2794.9 1257.9 2793.7 1260 2792.6 1261.7 2792 1263.6 2793 1265.4 2794 1266.4 2796.6 1267.9 2798.3 1270 2798.7 1272.9 2799.7 1276.4 2799.4 1280 2801.1 1284.3 2802.6 1288.6 2804 1292.9 2805.1 1297.9 2805.9 1302.9 2806.3 1307.1 2806.3 1311.4 2806 1315.7 2806.6 1320 2806.6 1324.3 2806.9 1328.6 2806.9 1332.9 2806.6 1337.9 2806.3 1341.4 2805.4 1344 2805.1 1345.4 2803.7 1347.1 2800.9 1348.9 2796.6 1350 2790.9 1351 2783.7 1351.7 2773.7 1352.1 2763.7 1352.9 2763.4 1353.6 2766.6 1354.6 2765.9 1355.1 2763.7 1355.7 2752.3 1356.4 2738 1357.1 2729.4 1358.3 2728 1359.3 2725.9 1360.3 2724.4 1361.1 2726.6 1362.1 2732.3 1362.9 2735.9 1363.6 2735.1 1364 2723.7 1364.8 2716.7 1366 2723.7 1366.9 2732.3 1367.4 2740.9 1368.3 2750.9 1369.3 2759.4 1370 2764.4 1371.1 2763.7 1371.9 2767.3 1372.9 2772.3 1374 2778 1375.4 2779.1 1376.6 2778.3 1377.4 2780.9 1378.3 2784.4 1379.7 2785.9 1381.4 2786.6 1383.6 2788.3 1385.7 2788 1388.3 2787.3 1390.7 2788 1392.9 2788.7 1394.6 2790.9 1395.7 2791.6 1396.6 2789.1 1397.4 2791.6 1398.6 2795.9 1400.3 2798.7 1402.6 2801.6 1405 2804.4 1407.9 2808 1410 2810.6 1412.9 2811.6 1417.1 2813 1421.4 2814 1425 2814.4 1428.6 2815.9 1432.9 2816.9 1437.1 2817.7 1441.4 2818.1 1470 2818.1" stroke="#4169e1" stroke-width="2.9" stroke-linejoin="round" stroke-linecap="butt" fill="none" clip-path="url(#c9_2)"/>
<rect x="1157.5" y="2641.5" width="404" height="178" fill="none" stroke="#cccccc" stroke-width="2.78"/>
<text x="1157.95" y="2624.95" font-size="20.61" textLength="181.49" lengthAdjust="spacingAndGlyphs">NiAs(B81)(x=0.50)</text>
<text x="1156.46" y="2853.48" font-size="17.8" textLength="32.3" lengthAdjust="spacingAndGlyphs">−10</text>
<text x="1239.29" y="2853.48" font-size="17.8" textLength="21.9" lengthAdjust="spacingAndGlyphs">−5</text>
<text x="1323.4" y="2853.48" font-size="17.8" textLength="9.05" lengthAdjust="spacingAndGlyphs">0</text>
<text x="1401.37" y="2853.48" font-size="17.8" textLength="8.53" lengthAdjust="spacingAndGlyphs">5</text>
<text x="1473.92" y="2853.48" font-size="17.8" textLength="19.2" lengthAdjust="spacingAndGlyphs">10</text>
<text x="1551.71" y="2853.48" font-size="17.8" textLength="18.88" lengthAdjust="spacingAndGlyphs">15</text>
<text x="1107.95" y="2824.23" font-size="17.8" textLength="24.34" lengthAdjust="spacingAndGlyphs">0.0</text>
<text x="1107.94" y="2776.73" font-size="17.8" textLength="24.04" lengthAdjust="spacingAndGlyphs">0.5</text>
<text x="1108" y="2729.23" font-size="17.8" textLength="24.28" lengthAdjust="spacingAndGlyphs">1.0</text>
<text x="1108" y="2681.73" font-size="17.8" textLength="23.98" lengthAdjust="spacingAndGlyphs">1.5</text>
<text x="1071.65" y="2732.15" font-size="20.61" textLength="41.68" lengthAdjust="spacingAndGlyphs" transform="rotate(-90 1092.43 2732.15)">DOS</text>
</g>
<g>
<path d="M125 3099.8V2921.94M202 3099.8V2921.94M280 3099.8V2921.94M358 3099.8V2921.94M436 3099.8V2921.94M513 3099.8V2921.94M109.55 3098H513.55M109.55 3051H513.55M109.55 3003H513.55M109.55 2956H513.55" stroke="#cccccc" stroke-width="2.22" stroke-dasharray="8.22 3.56" fill="none"/>
<path d="M108.9 3098.4 134.6 3098.4 135.1 3075.1 136.1 3043.9 137.1 3068 137.7 3087.3 139.1 3090.1 141.7 3094 148.9 3094 156.7 3094 158.1 3086.6 159.6 3080.1 160.3 3068 161.4 3058.1 162.6 3069.4 163.9 3079.4 165.3 3078 166.7 3074.4 167.7 3065.1 168.9 3061 170.3 3066.6 171.1 3075.1 173.1 3076.6 175.3 3078.3 177.4 3080.6 180.3 3082 183.1 3083.7 185.3 3085.9 187.4 3088.3 191.7 3088.3 198.9 3088.3 206 3088.3 210.3 3088.3 213.1 3088.9 220.3 3089.1 223.9 3088.3 230.3 3087.7 236 3087 241 3086.3 242.9 3086.3 243.6 3075.1 244.3 3060.9 245.1 3039.4 246 3032.3 247.3 3027.9 248.3 3046.6 248.9 3058 250 3062 251.4 3060.6 253.1 3060.9 255.3 3063.4 257.4 3065.4 259.6 3066.6 260.6 3066.3 261.7 3060.9 262.9 3055.9 263.9 3055.1 264.9 3055.4 265.7 3060.9 267.1 3068 268.9 3072.3 271 3074.9 273.9 3076.3 277.4 3076.6 281.7 3077.3 285.7 3077.3 287.7 3079.1 290 3080.1 292.9 3078.3 295.7 3076.6 297.9 3074.4 300 3071.1 301.7 3068 303.1 3065.9 304.6 3064.4 305.7 3066.6 306.6 3069.7 307.4 3066.6 308.3 3062.3 309 3060.1 309.7 3059.9 310.3 3066.6 311.9 3071.7 312.9 3060.9 314.1 3056.7 315.1 3075.1 315.7 3082.3 317.9 3082.6 320.7 3083 322.6 3083 324.3 3082 326 3082 327.1 3084.4 328.6 3086.6 330.7 3087.7 333.6 3087.3 336.4 3085.9 339.3 3084.4 342.1 3083.4 345.7 3082.6 349.3 3082 350.7 3079.4 352.1 3077.7 354.3 3076.9 355.7 3075.9 356.9 3069.4 357.7 3063.7 358.6 3062.3 359.4 3066.6 360.4 3073.7 361.4 3078.7 362.1 3072.3 363.2 3063.6 364.3 3075.1 365.1 3083.7 366 3087.7 366.9 3082.3 367.7 3082 368.6 3085.1 370 3087.3 372.1 3088.3 373.6 3088 374.6 3086.3 375.4 3086.6 376.4 3089.4 377.9 3091.1 379.3 3093 380.7 3095.9 382.9 3098.4 408.6 3098.4" stroke="#4169e1" stroke-width="2.9" stroke-linejoin="round" stroke-linecap="butt" fill="none" clip-path="url(#c10_0)"/>
<rect x="109.5" y="2921.5" width="404" height="178" fill="none" stroke="#cccccc" stroke-width="2.78"/>
<text x="110.92" y="2905.27" font-size="20.61" textLength="158.13" lengthAdjust="spacingAndGlyphs">WC(Bh)(x=0.50)</text>
<text x="108.98" y="3133.8" font-size="17.8" textLength="32.3" lengthAdjust="spacingAndGlyphs">−10</text>
<text x="191.81" y="3133.8" font-size="17.8" textLength="21.9" lengthAdjust="spacingAndGlyphs">−5</text>
<text x="275.92" y="3133.8" font-size="17.8" textLength="9.05" lengthAdjust="spacingAndGlyphs">0</text>
<text x="353.89" y="3133.8" font-size="17.8" textLength="8.53" lengthAdjust="spacingAndGlyphs">5</text>
<text x="426.44" y="3133.8" font-size="17.8" textLength="19.2" lengthAdjust="spacingAndGlyphs">10</text>
<text x="504.23" y="3133.8" font-size="17.8" textLength="18.88" lengthAdjust="spacingAndGlyphs">15</text>
<text x="60.47" y="3104.55" font-size="17.8" textLength="24.34" lengthAdjust="spacingAndGlyphs">0.0</text>
<text x="60.46" y="3057.05" font-size="17.8" textLength="24.04" lengthAdjust="spacingAndGlyphs">0.5</text>
<text x="60.52" y="3009.55" font-size="17.8" textLength="24.28" lengthAdjust="spacingAndGlyphs">1.0</text>
<text x="60.52" y="2962.05" font-size="17.8" textLength="23.98" lengthAdjust="spacingAndGlyphs">1.5</text>
<text x="24.17" y="3012.47" font-size="20.61" textLength="41.68" lengthAdjust="spacingAndGlyphs" transform="rotate(-90 44.95 3012.47)">DOS</text>
<text x="232.38" y="3163.2" font-size="20.61" textLength="158.16" lengthAdjust="spacingAndGlyphs">Frequency (THz)</text>
</g>
<g>
<path d="M648 3099.8V2921.94M726 3099.8V2921.94M804 3099.8V2921.94M882 3099.8V2921.94M959 3099.8V2921.94M1037 3099.8V2921.94M633.29 3098H1037.29M633.29 3051H1037.29M633.29 3003H1037.29M633.29 2956H1037.29" stroke="#cccccc" stroke-width="2.22" stroke-dasharray="8.22 3.56" fill="none"/>
<path d="M793.9 3098.4 806.7 3098.4 809.6 3095.9 812.4 3093 814.9 3088.7 816.7 3083.7 818.1 3076.6 819.1 3068 819.7 3053.7 820.6 3049.4 821.4 3043.7 822.4 3032.3 823.4 3018 824 2989.4 824.7 2960 825.7 2989.4 826.6 3014.1 827.7 2989.4 828.3 2932.3 828.6 2919.4 830.3 2919.4 830.9 2960.9 831.7 3018 832.3 3060.9 833 3086.4 834 3060.9 834.9 3038 835.7 3037.3 836.4 3026.6 837 3019.7 838 3019.4 838.9 3022.3 839.4 3039.4 840.3 3046.6 841.4 3051.6 842.4 3053 843.1 3051.1 844 3051.6 844.9 3060.9 846.1 3072.1 847 3046.6 847.6 3033.6 848.3 3060.9 848.6 3098.4 887.1 3098.4 888 3082.3 888.9 3046.6 889.9 2951.9 891.1 2956.6 891.7 3003.7 892.4 3046.6 893.4 3068 894.3 3079.4 895.1 3072.3 896 3060.9 896.6 3046.6 897.4 3029.6 898.4 3061 899.5 2997.1 900.3 3046.6 901.1 3075.1 902.3 3093.7 902.9 3098.4 904.3 3098.4 904.9 3075.1 905.4 3032.3 906.4 2971.4 907.1 3003.7 907.7 3040.3 908.9 3027.9 910 3036.6 911.2 3067.9 912.7 3031.4 914.3 3046.7 915.3 3032.3 916 3029.4 916.7 3029.1 917.5 3080.3 918.9 3045.3 920.1 3079.6 921.1 3039.4 922 3039.1 922.9 3042.3 923.9 3053.7 925.4 3064.1 927.1 3059.4 928.1 3049.4 929.1 3046.6 930.3 3048 931.7 3048.3 932.9 3048 933.7 3065.3 934.7 3031.9 935.7 3060.9 936.3 3098.4 948.9 3098.4" stroke="#4169e1" stroke-width="2.9" stroke-linejoin="round" stroke-linecap="butt" fill="none" clip-path="url(#c10_1)"/>
<rect x="633.5" y="2921.5" width="404" height="178" fill="none" stroke="#cccccc" stroke-width="2.78"/>
<text x="634.24" y="2905.27" font-size="20.61" textLength="177.91" lengthAdjust="spacingAndGlyphs">FeSi(B20)(x=0.50)</text>
<text x="632.72" y="3133.8" font-size="17.8" textLength="32.3" lengthAdjust="spacingAndGlyphs">−10</text>
<text x="715.55" y="3133.8" font-size="17.8" textLength="21.9" lengthAdjust="spacingAndGlyphs">−5</text>
<text x="799.66" y="3133.8" font-size="17.8" textLength="9.05" lengthAdjust="spacingAndGlyphs">0</text>
<text x="877.63" y="3133.8" font-size="17.8" textLength="8.53" lengthAdjust="spacingAndGlyphs">5</text>
<text x="950.18" y="3133.8" font-size="17.8" textLength="19.2" lengthAdjust="spacingAndGlyphs">10</text>
<text x="1027.97" y="3133.8" font-size="17.8" textLength="18.88" lengthAdjust="spacingAndGlyphs">15</text>
<text x="584.21" y="3104.55" font-size="17.8" textLength="24.34" lengthAdjust="spacingAndGlyphs">0.0</text>
<text x="584.2" y="3057.05" font-size="17.8" textLength="24.04" lengthAdjust="spacingAndGlyphs">0.5</text>
<text x="584.26" y="3009.55" font-size="17.8" textLength="24.28" lengthAdjust="spacingAndGlyphs">1.0</text>
<text x="584.26" y="2962.05" font-size="17.8" textLength="23.98" lengthAdjust="spacingAndGlyphs">1.5</text>
<text x="547.91" y="3012.47" font-size="20.61" textLength="41.68" lengthAdjust="spacingAndGlyphs" transform="rotate(-90 568.69 3012.47)">DOS</text>
<text x="756.12" y="3163.2" font-size="20.61" textLength="158.16" lengthAdjust="spacingAndGlyphs">Frequency (THz)</text>
</g>
<g>
<path d="M1172 3099.8V2921.94M1250 3099.8V2921.94M1328 3099.8V2921.94M1405 3099.8V2921.94M1483 3099.8V2921.94M1561 3099.8V2921.94M1157.03 3098H1561.03M1157.03 3051H1561.03M1157.03 3003H1561.03M1157.03 2956H1561.03" stroke="#cccccc" stroke-width="2.22" stroke-dasharray="8.22 3.56" fill="none"/>
<path d="M1264.9 3098.4 1281.1 3098.4 1283.3 3085.1 1285.4 3076.6 1287.1 3069.4 1288.6 3059.4 1289.7 3046.6 1290.4 3032.3 1291.3 3026.4 1292.6 3039.4 1293.4 3053.7 1294.9 3063.6 1296.6 3047.1 1297.9 3060.9 1298.6 3069.4 1299.4 3065.9 1300 3066.6 1300.6 3082.3 1301.4 3088.7 1302.9 3090.9 1303.4 3060.9 1304 3039.4 1304.7 3038.7 1305.4 3032.3 1306.7 3018.6 1307.7 3032.3 1308.6 3046.6 1309.9 3051.7 1311.1 3046.6 1312.3 3043.7 1313.1 3040.6 1313.9 3040.9 1314.4 3055.1 1315.5 3050 1316.3 3069.4 1317.6 3076.6 1319 3083.7 1320.4 3090.9 1322.6 3094.4 1325.4 3095.4 1330.4 3095.9 1335.7 3096.3 1336.9 3095.1 1337.7 3090.9 1339.1 3088.7 1340.4 3083.7 1341.4 3080.1 1342.3 3080.6 1343.4 3084.4 1344.3 3088.3 1345.4 3086.6 1346.6 3082.3 1347.6 3082 1348.6 3083.4 1349.7 3082.3 1350.9 3078 1351.7 3076.9 1352.6 3079.4 1353.4 3083 1354 3075.1 1354.6 3072.3 1355.1 3075.1 1356 3082.3 1357.1 3082 1358.3 3084.4 1359.8 3089.6 1360.9 3075.1 1361.7 3060.9 1362.3 3046.6 1363.3 3035.3 1364.6 3046.6 1365.4 3055.1 1366.3 3065.1 1367.1 3070.6 1368.1 3066.4 1369.4 3082.3 1370.3 3088.9 1371.1 3075.1 1372 3068 1372.4 3018 1372.9 2946.6 1373.1 2919.4 1375.1 2919.4 1375.4 2960.9 1376 3003.7 1376.8 3027.4 1377.9 3006.7 1378.6 3046.6 1379 3075.1 1379.9 3085.6 1381.6 3080.7 1382.6 3085.4 1384.7 3086.3 1387.6 3087.7 1391.1 3088.3 1395.4 3088.9 1399.7 3090.1 1402.6 3091.1 1404.7 3093 1406.9 3094.9 1408.6 3095.4 1410.4 3092.3 1412.3 3088 1413.1 3075.1 1413.7 3046.6 1414.3 3018 1415.5 3007.9 1416.9 3032.3 1417.6 3046.6 1418.6 3055.1 1419.7 3066.4 1420.8 3056.7 1421.7 3070.9 1423.3 3071.1 1424.3 3070.6 1425.1 3069.7 1426.4 3064.3 1427.4 3081.6 1428.3 3079.4 1429.4 3075.1 1430.9 3068 1431.9 3065.9 1432.6 3065.4 1433.7 3068 1434.9 3068.3 1435.7 3069.4 1436.9 3069.7 1437.7 3073.7 1438.6 3077.3 1439.4 3072.3 1440 3063 1440.9 3062.3 1441.7 3055.1 1442.3 3053 1443.1 3053.4 1443.7 3060.9 1444.3 3082.3 1444.9 3098.4 1461.6 3098.4" stroke="#4169e1" stroke-width="2.9" stroke-linejoin="round" stroke-linecap="butt" fill="none" clip-path="url(#c10_2)"/>
<rect x="1157.5" y="2921.5" width="404" height="178" fill="none" stroke="#cccccc" stroke-width="2.78"/>
<text x="1157.95" y="2905.27" font-size="20.61" textLength="181.86" lengthAdjust="spacingAndGlyphs">NaTl(B32)(x=0.50)</text>
<text x="1156.46" y="3133.8" font-size="17.8" textLength="32.3" lengthAdjust="spacingAndGlyphs">−10</text>
<text x="1239.29" y="3133.8" font-size="17.8" textLength="21.9" lengthAdjust="spacingAndGlyphs">−5</text>
<text x="1323.4" y="3133.8" font-size="17.8" textLength="9.05" lengthAdjust="spacingAndGlyphs">0</text>
<text x="1401.37" y="3133.8" font-size="17.8" textLength="8.53" lengthAdjust="spacingAndGlyphs">5</text>
<text x="1473.92" y="3133.8" font-size="17.8" textLength="19.2" lengthAdjust="spacingAndGlyphs">10</text>
<text x="1551.71" y="3133.8" font-size="17.8" textLength="18.88" lengthAdjust="spacingAndGlyphs">15</text>
<text x="1107.95" y="3104.55" font-size="17.8" textLength="24.34" lengthAdjust="spacingAndGlyphs">0.0</text>
<text x="1107.94" y="3057.05" font-size="17.8" textLength="24.04" lengthAdjust="spacingAndGlyphs">0.5</text>
<text x="1108" y="3009.55" font-size="17.8" textLength="24.28" lengthAdjust="spacingAndGlyphs">1.0</text>
<text x="1108" y="2962.05" font-size="17.8" textLength="23.98" lengthAdjust="spacingAndGlyphs">1.5</text>
<text x="1071.65" y="3012.47" font-size="20.61" textLength="41.68" lengthAdjust="spacingAndGlyphs" transform="rotate(-90 1092.43 3012.47)">DOS</text>
<text x="1279.86" y="3163.2" font-size="20.61" textLength="158.16" lengthAdjust="spacingAndGlyphs">Frequency (THz)</text>
</g>
</svg>
</body></html>
